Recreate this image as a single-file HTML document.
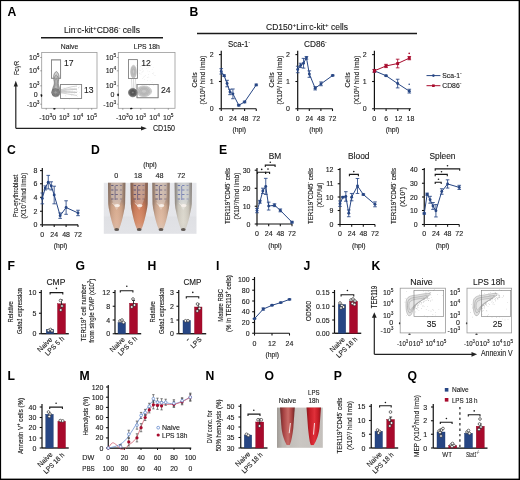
<!DOCTYPE html>
<html><head><meta charset="utf-8"><style>
html,body{margin:0;padding:0;background:#fff;}
body{width:520px;height:480px;overflow:hidden;font-family:"Liberation Sans", sans-serif;}
svg{display:block;will-change:transform;}
text{font-family:"Liberation Sans", sans-serif;}
</style></head><body>
<svg width="520" height="480" viewBox="0 0 520 480" font-family='"Liberation Sans", sans-serif'>
<rect x="0" y="0" width="520" height="480" fill="#fff" stroke="none" stroke-width="1"/>
<rect x="0" y="0" width="520" height="1.1" fill="#000" stroke="none" stroke-width="1"/>
<rect x="0" y="0" width="1.1" height="480" fill="#000" stroke="none" stroke-width="1"/>
<rect x="518.6" y="0" width="1.4" height="480" fill="#000" stroke="none" stroke-width="1"/>
<rect x="0" y="478.6" width="520" height="1.4" fill="#000" stroke="none" stroke-width="1"/>
<text x="7.5" y="16" font-size="12.2" text-anchor="start" fill="#000" font-weight="bold">A</text>
<text x="64" y="32.5" font-size="8.6" text-anchor="start" fill="#1a1a1a" stroke="#1a1a1a" stroke-width="0.12" textLength="76" lengthAdjust="spacingAndGlyphs">Lin<tspan font-size="5.5" baseline-shift="3">-</tspan>c-kit<tspan font-size="6.2" baseline-shift="2.8">+</tspan>CD86<tspan font-size="5.5" baseline-shift="3">-</tspan> cells</text>
<line x1="41" y1="37.8" x2="163" y2="37.8" stroke="#1a1a1a" stroke-width="1.4"/>
<text x="69.5" y="48.5" font-size="6.8" text-anchor="middle" fill="#1a1a1a" stroke="#1a1a1a" stroke-width="0.12">Naive</text>
<text x="146.8" y="48.5" font-size="6.8" text-anchor="middle" fill="#1a1a1a" stroke="#1a1a1a" stroke-width="0.12">LPS 18h</text>
<rect x="41.7" y="52.5" width="55.3" height="55.8" fill="none" stroke="#9a9a9a" stroke-width="0.8"/>
<line x1="40.2" y1="57.5" x2="41.7" y2="57.5" stroke="#666" stroke-width="0.6"/>
<line x1="40.2" y1="70.8" x2="41.7" y2="70.8" stroke="#666" stroke-width="0.6"/>
<line x1="40.2" y1="85.8" x2="41.7" y2="85.8" stroke="#666" stroke-width="0.6"/>
<line x1="40.2" y1="94.7" x2="41.7" y2="94.7" stroke="#666" stroke-width="0.6"/>
<line x1="40.2" y1="104.2" x2="41.7" y2="104.2" stroke="#666" stroke-width="0.6"/>
<text x="39.5" y="60.0" font-size="7" text-anchor="end" fill="#1a1a1a" stroke="#1a1a1a" stroke-width="0.12">10<tspan font-size="4.8" baseline-shift="2.8">5</tspan></text>
<text x="39.5" y="73.3" font-size="7" text-anchor="end" fill="#1a1a1a" stroke="#1a1a1a" stroke-width="0.12">10<tspan font-size="4.8" baseline-shift="2.8">4</tspan></text>
<text x="39.5" y="88.3" font-size="7" text-anchor="end" fill="#1a1a1a" stroke="#1a1a1a" stroke-width="0.12">10<tspan font-size="4.8" baseline-shift="2.8">3</tspan></text>
<text x="37.7" y="97.2" font-size="7" text-anchor="end" fill="#1a1a1a" stroke="#1a1a1a" stroke-width="0.12">0</text>
<text x="39.5" y="106.7" font-size="7" text-anchor="end" fill="#1a1a1a" stroke="#1a1a1a" stroke-width="0.12">-10<tspan font-size="4.8" baseline-shift="2.8">3</tspan></text>
<rect x="51.4" y="59.9" width="9.300000000000004" height="18.300000000000004" fill="none" stroke="#6a6a6a" stroke-width="0.7"/>
<rect x="60.5" y="84.4" width="21.200000000000003" height="14.099999999999994" fill="none" stroke="#6a6a6a" stroke-width="0.7"/>
<text x="64" y="66.1" font-size="8.6" text-anchor="start" fill="#1a1a1a" stroke="#1a1a1a" stroke-width="0.12">17</text>
<text x="84" y="93.3" font-size="8.6" text-anchor="start" fill="#1a1a1a" stroke="#1a1a1a" stroke-width="0.12">13</text>
<text x="45.7" y="120" font-size="7" text-anchor="middle" fill="#1a1a1a" stroke="#1a1a1a" stroke-width="0.12">-10<tspan font-size="4.8" baseline-shift="2.8">3</tspan></text>
<text x="54.300000000000004" y="120" font-size="7" text-anchor="middle" fill="#1a1a1a" stroke="#1a1a1a" stroke-width="0.12">0</text>
<text x="64.2" y="120" font-size="7" text-anchor="middle" fill="#1a1a1a" stroke="#1a1a1a" stroke-width="0.12">10<tspan font-size="4.8" baseline-shift="2.8">3</tspan></text>
<text x="78.0" y="120" font-size="7" text-anchor="middle" fill="#1a1a1a" stroke="#1a1a1a" stroke-width="0.12">10<tspan font-size="4.8" baseline-shift="2.8">4</tspan></text>
<text x="91.7" y="120" font-size="7" text-anchor="middle" fill="#1a1a1a" stroke="#1a1a1a" stroke-width="0.12">10<tspan font-size="4.8" baseline-shift="2.8">5</tspan></text>
<line x1="46.2" y1="108.3" x2="46.2" y2="109.8" stroke="#666" stroke-width="0.6"/>
<line x1="54.2" y1="108.3" x2="54.2" y2="109.8" stroke="#666" stroke-width="0.6"/>
<line x1="64.2" y1="108.3" x2="64.2" y2="109.8" stroke="#666" stroke-width="0.6"/>
<line x1="78.2" y1="108.3" x2="78.2" y2="109.8" stroke="#666" stroke-width="0.6"/>
<line x1="91.7" y1="108.3" x2="91.7" y2="109.8" stroke="#666" stroke-width="0.6"/>
<rect x="118.3" y="52.5" width="56.7" height="55.8" fill="none" stroke="#9a9a9a" stroke-width="0.8"/>
<line x1="116.8" y1="57.5" x2="118.3" y2="57.5" stroke="#666" stroke-width="0.6"/>
<line x1="116.8" y1="70.8" x2="118.3" y2="70.8" stroke="#666" stroke-width="0.6"/>
<line x1="116.8" y1="85.8" x2="118.3" y2="85.8" stroke="#666" stroke-width="0.6"/>
<line x1="116.8" y1="94.7" x2="118.3" y2="94.7" stroke="#666" stroke-width="0.6"/>
<line x1="116.8" y1="104.2" x2="118.3" y2="104.2" stroke="#666" stroke-width="0.6"/>
<text x="116.1" y="60.0" font-size="7" text-anchor="end" fill="#1a1a1a" stroke="#1a1a1a" stroke-width="0.12">10<tspan font-size="4.8" baseline-shift="2.8">5</tspan></text>
<text x="116.1" y="73.3" font-size="7" text-anchor="end" fill="#1a1a1a" stroke="#1a1a1a" stroke-width="0.12">10<tspan font-size="4.8" baseline-shift="2.8">4</tspan></text>
<text x="116.1" y="88.3" font-size="7" text-anchor="end" fill="#1a1a1a" stroke="#1a1a1a" stroke-width="0.12">10<tspan font-size="4.8" baseline-shift="2.8">3</tspan></text>
<text x="114.3" y="97.2" font-size="7" text-anchor="end" fill="#1a1a1a" stroke="#1a1a1a" stroke-width="0.12">0</text>
<text x="116.1" y="106.7" font-size="7" text-anchor="end" fill="#1a1a1a" stroke="#1a1a1a" stroke-width="0.12">-10<tspan font-size="4.8" baseline-shift="2.8">3</tspan></text>
<rect x="128.4" y="59.7" width="9.099999999999994" height="18.700000000000003" fill="none" stroke="#6a6a6a" stroke-width="0.7"/>
<rect x="137" y="84.4" width="21.099999999999994" height="13.399999999999991" fill="none" stroke="#6a6a6a" stroke-width="0.7"/>
<text x="141.2" y="66.4" font-size="8.6" text-anchor="start" fill="#1a1a1a" stroke="#1a1a1a" stroke-width="0.12">12</text>
<text x="161" y="93.3" font-size="8.6" text-anchor="start" fill="#1a1a1a" stroke="#1a1a1a" stroke-width="0.12">24</text>
<text x="122.3" y="120" font-size="7" text-anchor="middle" fill="#1a1a1a" stroke="#1a1a1a" stroke-width="0.12">-10<tspan font-size="4.8" baseline-shift="2.8">3</tspan></text>
<text x="130.9" y="120" font-size="7" text-anchor="middle" fill="#1a1a1a" stroke="#1a1a1a" stroke-width="0.12">0</text>
<text x="140.8" y="120" font-size="7" text-anchor="middle" fill="#1a1a1a" stroke="#1a1a1a" stroke-width="0.12">10<tspan font-size="4.8" baseline-shift="2.8">3</tspan></text>
<text x="154.6" y="120" font-size="7" text-anchor="middle" fill="#1a1a1a" stroke="#1a1a1a" stroke-width="0.12">10<tspan font-size="4.8" baseline-shift="2.8">4</tspan></text>
<text x="168.3" y="120" font-size="7" text-anchor="middle" fill="#1a1a1a" stroke="#1a1a1a" stroke-width="0.12">10<tspan font-size="4.8" baseline-shift="2.8">5</tspan></text>
<line x1="122.8" y1="108.3" x2="122.8" y2="109.8" stroke="#666" stroke-width="0.6"/>
<line x1="130.8" y1="108.3" x2="130.8" y2="109.8" stroke="#666" stroke-width="0.6"/>
<line x1="140.8" y1="108.3" x2="140.8" y2="109.8" stroke="#666" stroke-width="0.6"/>
<line x1="154.8" y1="108.3" x2="154.8" y2="109.8" stroke="#666" stroke-width="0.6"/>
<line x1="168.3" y1="108.3" x2="168.3" y2="109.8" stroke="#666" stroke-width="0.6"/>
<g fill="none" stroke="#a8a8a8" stroke-width="0.5">
<path d="M59,90.25 C64,89.00 70,86.50 77,86.00"/>
<path d="M59,90.75 C64,89.80 70,88.10 77,89.10"/>
<path d="M59,91.25 C64,90.60 70,89.70 77,89.20"/>
<path d="M59,91.75 C64,91.40 70,91.30 77,92.30"/>
<path d="M59,92.25 C64,92.20 70,92.90 77,92.40"/>
<path d="M59,92.75 C64,93.00 70,94.50 77,95.50"/>
</g>
<g fill="#bbb" opacity="0.8">
<circle cx="64.8" cy="87.9" r="0.3"/>
<circle cx="72.1" cy="89.8" r="0.3"/>
<circle cx="72.5" cy="90.9" r="0.3"/>
<circle cx="76.7" cy="90.7" r="0.3"/>
<circle cx="65.2" cy="91.4" r="0.3"/>
<circle cx="69.4" cy="99.7" r="0.3"/>
<circle cx="76.7" cy="86.5" r="0.3"/>
<circle cx="63.0" cy="91.1" r="0.3"/>
<circle cx="72.7" cy="92.8" r="0.3"/>
<circle cx="74.8" cy="88.0" r="0.3"/>
<circle cx="73.4" cy="94.8" r="0.3"/>
<circle cx="71.8" cy="92.3" r="0.3"/>
<circle cx="66.0" cy="96.0" r="0.3"/>
<circle cx="69.5" cy="91.6" r="0.3"/>
<circle cx="74.4" cy="93.7" r="0.3"/>
<circle cx="78.4" cy="87.4" r="0.3"/>
<circle cx="67.9" cy="91.5" r="0.3"/>
<circle cx="78.7" cy="87.6" r="0.3"/>
<circle cx="77.6" cy="91.7" r="0.3"/>
<circle cx="64.3" cy="91.4" r="0.3"/>
<circle cx="79.3" cy="86.9" r="0.3"/>
<circle cx="66.0" cy="92.0" r="0.3"/>
<circle cx="70.1" cy="88.5" r="0.3"/>
<circle cx="71.7" cy="92.2" r="0.3"/>
<circle cx="71.7" cy="94.0" r="0.3"/>
<circle cx="78.6" cy="88.1" r="0.3"/>
<circle cx="77.1" cy="94.7" r="0.3"/>
<circle cx="63.3" cy="90.3" r="0.3"/>
<circle cx="77.2" cy="96.4" r="0.3"/>
<circle cx="71.4" cy="89.2" r="0.3"/>
<circle cx="74.3" cy="91.8" r="0.3"/>
<circle cx="71.5" cy="95.6" r="0.3"/>
<circle cx="65.7" cy="95.6" r="0.3"/>
<circle cx="79.8" cy="92.6" r="0.3"/>
<circle cx="61.8" cy="91.4" r="0.3"/>
<circle cx="63.0" cy="87.8" r="0.3"/>
<circle cx="65.9" cy="91.2" r="0.3"/>
<circle cx="60.9" cy="84.9" r="0.3"/>
<circle cx="72.3" cy="94.8" r="0.3"/>
<circle cx="66.6" cy="91.7" r="0.3"/>
</g>
<path d="M56.60,71.50 C58.30,72.50 59.30,75.50 59.00,78.00 C58.60,80.50 58.00,82.50 58.50,85.00 C60.00,88.00 60.50,93.00 59.00,95.50 C57.50,97.20 53.50,97.20 52.50,95.00 C51.70,92.00 52.50,88.00 54.00,85.00 C54.80,82.50 53.80,80.00 53.60,77.50 C53.50,74.50 54.80,71.80 56.60,71.50 Z" fill="#d0d0d0" stroke="#666" stroke-width="0.6"/>
<path d="M56.45,75.12 C57.72,75.88 58.47,78.12 58.25,80.00 C57.95,81.88 57.50,83.38 57.88,85.25 C59.00,87.50 59.38,91.25 58.25,93.12 C57.12,94.40 54.12,94.40 53.38,92.75 C52.78,90.50 53.38,87.50 54.50,85.25 C55.10,83.38 54.35,81.50 54.20,79.62 C54.12,77.38 55.10,75.35 56.45,75.12 Z" fill="#bcbcbc" stroke="#7a7a7a" stroke-width="0.6"/>
<path d="M56.30,78.75 C57.15,79.25 57.65,80.75 57.50,82.00 C57.30,83.25 57.00,84.25 57.25,85.50 C58.00,87.00 58.25,89.50 57.50,90.75 C56.75,91.60 54.75,91.60 54.25,90.50 C53.85,89.00 54.25,87.00 55.00,85.50 C55.40,84.25 54.90,83.00 54.80,81.75 C54.75,80.25 55.40,78.90 56.30,78.75 Z" fill="#b4b4b4" stroke="#858585" stroke-width="0.6"/>
<ellipse cx="55.6" cy="92.4" rx="3.89" ry="3.70" fill="#aaaaaa" stroke="#3a3a3a" stroke-width="0.5"/>
<ellipse cx="55.6" cy="92.4" rx="2.84" ry="2.70" fill="#9a9a9a" stroke="#505050" stroke-width="0.5"/>
<ellipse cx="55.6" cy="92.4" rx="1.78" ry="1.70" fill="#9c9c9c" stroke="#666" stroke-width="0.5"/>
<g fill="#c4c4c4" opacity="0.9">
<circle cx="153.6" cy="85.6" r="0.3"/>
<circle cx="146.1" cy="86.0" r="0.3"/>
<circle cx="142.2" cy="65.7" r="0.3"/>
<circle cx="148.0" cy="64.7" r="0.3"/>
<circle cx="139.9" cy="73.0" r="0.3"/>
<circle cx="148.2" cy="67.4" r="0.3"/>
<circle cx="136.8" cy="83.1" r="0.3"/>
<circle cx="142.3" cy="85.1" r="0.3"/>
<circle cx="153.9" cy="72.3" r="0.3"/>
<circle cx="145.2" cy="75.4" r="0.3"/>
<circle cx="148.9" cy="77.1" r="0.3"/>
<circle cx="147.2" cy="77.6" r="0.3"/>
<circle cx="154.8" cy="75.2" r="0.3"/>
<circle cx="144.6" cy="79.8" r="0.3"/>
<circle cx="140.8" cy="70.6" r="0.3"/>
<circle cx="155.6" cy="75.5" r="0.3"/>
<circle cx="147.0" cy="64.3" r="0.3"/>
<circle cx="144.3" cy="76.8" r="0.3"/>
<circle cx="136.4" cy="77.5" r="0.3"/>
<circle cx="148.6" cy="65.3" r="0.3"/>
<circle cx="148.5" cy="74.3" r="0.3"/>
<circle cx="149.6" cy="71.8" r="0.3"/>
<circle cx="150.1" cy="80.2" r="0.3"/>
<circle cx="136.4" cy="65.3" r="0.3"/>
<circle cx="149.5" cy="85.2" r="0.3"/>
<circle cx="141.0" cy="74.0" r="0.3"/>
<circle cx="147.9" cy="71.0" r="0.3"/>
<circle cx="143.3" cy="70.9" r="0.3"/>
<circle cx="143.4" cy="77.1" r="0.3"/>
<circle cx="142.0" cy="72.3" r="0.3"/>
<circle cx="151.4" cy="64.6" r="0.3"/>
<circle cx="147.4" cy="80.2" r="0.3"/>
<circle cx="142.2" cy="68.9" r="0.3"/>
<circle cx="152.1" cy="69.3" r="0.3"/>
<circle cx="139.7" cy="73.6" r="0.3"/>
<circle cx="150.0" cy="66.2" r="0.3"/>
<circle cx="142.4" cy="71.3" r="0.3"/>
<circle cx="152.7" cy="73.6" r="0.3"/>
<circle cx="153.1" cy="67.7" r="0.3"/>
<circle cx="142.7" cy="78.3" r="0.3"/>
<circle cx="153.7" cy="73.9" r="0.3"/>
<circle cx="140.5" cy="66.7" r="0.3"/>
<circle cx="146.6" cy="68.2" r="0.3"/>
<circle cx="152.1" cy="82.4" r="0.3"/>
<circle cx="139.7" cy="70.1" r="0.3"/>
</g>
<path d="M131.5,79 L132,88 M135.5,79 L135,88 M133.5,79 L133.5,88" stroke="#bbb" stroke-width="0.5"/>
<ellipse cx="133.5" cy="71.7" rx="2.9" ry="6.4" fill="#cfcfcf" stroke="#aaa" stroke-width="0.45"/>
<ellipse cx="133.5" cy="71.7" rx="2.2" ry="5.0" fill="#c4c4c4" stroke="#aaa" stroke-width="0.45"/>
<ellipse cx="133.5" cy="71.7" rx="1.4" ry="3.5" fill="#bcbcbc" stroke="#aaa" stroke-width="0.45"/>
<ellipse cx="133.5" cy="71.7" rx="0.7" ry="2" fill="#d4d4d4" stroke="#b4b4b4" stroke-width="0.45"/>
<ellipse cx="144" cy="91.3" rx="7.6" ry="5.4" fill="#d0d0d0" stroke="#aaa" stroke-width="0.45"/>
<ellipse cx="144" cy="91.3" rx="6.0" ry="4.3" fill="#c6c6c6" stroke="#a8a8a8" stroke-width="0.45"/>
<ellipse cx="144" cy="91.3" rx="4.4" ry="3.1" fill="#bdbdbd" stroke="#a4a4a4" stroke-width="0.45"/>
<ellipse cx="144" cy="91.3" rx="2.6" ry="2" fill="#c8c8c8" stroke="#aaa" stroke-width="0.45"/>
<ellipse cx="132.8" cy="92.6" rx="4.3" ry="4.21" fill="#8c8c8c" stroke="#4a4a4a" stroke-width="0.55"/>
<ellipse cx="132.8" cy="92.6" rx="3.3" ry="3.23" fill="#7a7a7a" stroke="#444" stroke-width="0.55"/>
<ellipse cx="132.8" cy="92.6" rx="2.3" ry="2.25" fill="#666" stroke="#3a3a3a" stroke-width="0.55"/>
<ellipse cx="132.8" cy="92.6" rx="1.3" ry="1.27" fill="#808080" stroke="#444" stroke-width="0.55"/>
<rect x="51.4" y="59.9" width="9.300000000000004" height="18.300000000000004" fill="none" stroke="#888" stroke-width="0.6"/>
<rect x="60.5" y="84.4" width="21.200000000000003" height="14.099999999999994" fill="none" stroke="#888" stroke-width="0.6"/>
<rect x="128.4" y="59.7" width="9.099999999999994" height="18.700000000000003" fill="none" stroke="#888" stroke-width="0.6"/>
<rect x="137" y="84.4" width="21.099999999999994" height="13.399999999999991" fill="none" stroke="#888" stroke-width="0.6"/>
<ellipse cx="41.5" cy="95.6" rx="0.8" ry="1.3" fill="#111"/>
<ellipse cx="54.4" cy="108.7" rx="1.3" ry="0.7" fill="#111"/>
<ellipse cx="118.1" cy="94.9" rx="0.8" ry="1.3" fill="#111"/>
<ellipse cx="131.3" cy="108.5" rx="1.3" ry="0.7" fill="#111"/>
<ellipse cx="399.6" cy="323.3" rx="0.7" ry="1.1" fill="#111"/>
<ellipse cx="409.5" cy="334.2" rx="1.2" ry="0.6" fill="#111"/>
<ellipse cx="466.6" cy="323.3" rx="0.7" ry="1.1" fill="#111"/>
<ellipse cx="476.5" cy="334.2" rx="1.2" ry="0.6" fill="#111"/>
<path d="M15.8,128.3 L15.8,84.5" fill="none" stroke="#222" stroke-width="1.2"/>
<path d="M13.7,86.5 L15.8,80.8 L17.9,86.5 Z" fill="#222" stroke="none" stroke-width="1"/>
<path d="M15.8,128.3 L143,128.3" fill="none" stroke="#222" stroke-width="1.2"/>
<path d="M141,126.2 L146.8,128.3 L141,130.4 Z" fill="#222" stroke="none" stroke-width="1"/>
<text x="19" y="68" font-size="8" text-anchor="middle" fill="#1a1a1a" stroke="#1a1a1a" stroke-width="0.12" transform="rotate(-90 19 68)" textLength="14.2" lengthAdjust="spacingAndGlyphs">FcγR</text>
<text x="153" y="130.6" font-size="8.6" text-anchor="start" fill="#1a1a1a" stroke="#1a1a1a" stroke-width="0.12" textLength="22" lengthAdjust="spacingAndGlyphs">CD150</text>
<text x="189.5" y="16" font-size="12.2" text-anchor="start" fill="#000" font-weight="bold">B</text>
<text x="266" y="29.5" font-size="8.6" text-anchor="start" fill="#1a1a1a" stroke="#1a1a1a" stroke-width="0.12" textLength="82" lengthAdjust="spacingAndGlyphs">CD150<tspan font-size="6.2" baseline-shift="2.8">+</tspan>Lin<tspan font-size="5.5" baseline-shift="3">-</tspan>c-kit<tspan font-size="6.2" baseline-shift="2.8">+</tspan> cells</text>
<line x1="197" y1="33.5" x2="417" y2="33.5" stroke="#1a1a1a" stroke-width="1.4"/>
<text x="228" y="46.5" font-size="8.6" text-anchor="start" fill="#1a1a1a" stroke="#1a1a1a" stroke-width="0.12" textLength="22" lengthAdjust="spacingAndGlyphs">Sca-1<tspan font-size="5" baseline-shift="2.8">-</tspan></text>
<text x="304" y="46.5" font-size="8.6" text-anchor="start" fill="#1a1a1a" stroke="#1a1a1a" stroke-width="0.12" textLength="22.7" lengthAdjust="spacingAndGlyphs">CD86<tspan font-size="5" baseline-shift="2.8">-</tspan></text>
<line x1="221.25" y1="50.8" x2="221.25" y2="108.75" stroke="#111" stroke-width="1.2"/>
<line x1="218.95" y1="54.6" x2="221.25" y2="54.6" stroke="#111" stroke-width="1.08"/>
<text x="213.54999999999998" y="57.120000000000005" font-size="7" text-anchor="end" fill="#1a1a1a" stroke="#1a1a1a" stroke-width="0.12">2</text>
<line x1="218.95" y1="81.5" x2="221.25" y2="81.5" stroke="#111" stroke-width="1.08"/>
<text x="213.54999999999998" y="84.02" font-size="7" text-anchor="end" fill="#1a1a1a" stroke="#1a1a1a" stroke-width="0.12">1</text>
<line x1="218.95" y1="108.75" x2="221.25" y2="108.75" stroke="#111" stroke-width="1.08"/>
<text x="213.54999999999998" y="111.27" font-size="7" text-anchor="end" fill="#1a1a1a" stroke="#1a1a1a" stroke-width="0.12">0</text>
<line x1="221.25" y1="108.75" x2="256.25" y2="108.75" stroke="#111" stroke-width="1.2"/>
<line x1="221.25" y1="108.75" x2="221.25" y2="111.05" stroke="#111" stroke-width="1.08"/>
<text x="221.25" y="120.75" font-size="7" text-anchor="middle" fill="#1a1a1a" stroke="#1a1a1a" stroke-width="0.12">0</text>
<line x1="232.9" y1="108.75" x2="232.9" y2="111.05" stroke="#111" stroke-width="1.08"/>
<text x="232.9" y="120.75" font-size="7" text-anchor="middle" fill="#1a1a1a" stroke="#1a1a1a" stroke-width="0.12">24</text>
<line x1="244.6" y1="108.75" x2="244.6" y2="111.05" stroke="#111" stroke-width="1.08"/>
<text x="244.6" y="120.75" font-size="7" text-anchor="middle" fill="#1a1a1a" stroke="#1a1a1a" stroke-width="0.12">48</text>
<line x1="256.25" y1="108.75" x2="256.25" y2="111.05" stroke="#111" stroke-width="1.08"/>
<text x="256.25" y="120.75" font-size="7" text-anchor="middle" fill="#1a1a1a" stroke="#1a1a1a" stroke-width="0.12">72</text>
<text x="196.5" y="80" font-size="6.8" text-anchor="middle" fill="#1a1a1a" stroke="#1a1a1a" stroke-width="0.12" transform="rotate(-90 196.5 80)">Cells</text>
<text x="205.0" y="80" font-size="6.8" text-anchor="middle" fill="#1a1a1a" stroke="#1a1a1a" stroke-width="0.12" transform="rotate(-90 205.0 80)" textLength="49" lengthAdjust="spacingAndGlyphs">(X10<tspan font-size="4.2" baseline-shift="2.4">5</tspan>/ hind limb)</text>
<line x1="297.7" y1="50.8" x2="297.7" y2="108.75" stroke="#111" stroke-width="1.2"/>
<line x1="295.4" y1="54.6" x2="297.7" y2="54.6" stroke="#111" stroke-width="1.08"/>
<text x="290.0" y="57.120000000000005" font-size="7" text-anchor="end" fill="#1a1a1a" stroke="#1a1a1a" stroke-width="0.12">2</text>
<line x1="295.4" y1="81.5" x2="297.7" y2="81.5" stroke="#111" stroke-width="1.08"/>
<text x="290.0" y="84.02" font-size="7" text-anchor="end" fill="#1a1a1a" stroke="#1a1a1a" stroke-width="0.12">1</text>
<line x1="295.4" y1="108.75" x2="297.7" y2="108.75" stroke="#111" stroke-width="1.08"/>
<text x="290.0" y="111.27" font-size="7" text-anchor="end" fill="#1a1a1a" stroke="#1a1a1a" stroke-width="0.12">0</text>
<line x1="297.7" y1="108.75" x2="332.5" y2="108.75" stroke="#111" stroke-width="1.2"/>
<line x1="297.7" y1="108.75" x2="297.7" y2="111.05" stroke="#111" stroke-width="1.08"/>
<text x="297.7" y="120.75" font-size="7" text-anchor="middle" fill="#1a1a1a" stroke="#1a1a1a" stroke-width="0.12">0</text>
<line x1="309.3" y1="108.75" x2="309.3" y2="111.05" stroke="#111" stroke-width="1.08"/>
<text x="309.3" y="120.75" font-size="7" text-anchor="middle" fill="#1a1a1a" stroke="#1a1a1a" stroke-width="0.12">24</text>
<line x1="320.9" y1="108.75" x2="320.9" y2="111.05" stroke="#111" stroke-width="1.08"/>
<text x="320.9" y="120.75" font-size="7" text-anchor="middle" fill="#1a1a1a" stroke="#1a1a1a" stroke-width="0.12">48</text>
<line x1="332.5" y1="108.75" x2="332.5" y2="111.05" stroke="#111" stroke-width="1.08"/>
<text x="332.5" y="120.75" font-size="7" text-anchor="middle" fill="#1a1a1a" stroke="#1a1a1a" stroke-width="0.12">72</text>
<text x="273.5" y="80" font-size="6.8" text-anchor="middle" fill="#1a1a1a" stroke="#1a1a1a" stroke-width="0.12" transform="rotate(-90 273.5 80)">Cells</text>
<text x="282.0" y="80" font-size="6.8" text-anchor="middle" fill="#1a1a1a" stroke="#1a1a1a" stroke-width="0.12" transform="rotate(-90 282.0 80)" textLength="49" lengthAdjust="spacingAndGlyphs">(X10<tspan font-size="4.2" baseline-shift="2.4">5</tspan>/ hind limb)</text>
<line x1="374.4" y1="50.8" x2="374.4" y2="108.75" stroke="#111" stroke-width="1.2"/>
<line x1="372.09999999999997" y1="54.6" x2="374.4" y2="54.6" stroke="#111" stroke-width="1.08"/>
<text x="366.7" y="57.120000000000005" font-size="7" text-anchor="end" fill="#1a1a1a" stroke="#1a1a1a" stroke-width="0.12">2</text>
<line x1="372.09999999999997" y1="81.5" x2="374.4" y2="81.5" stroke="#111" stroke-width="1.08"/>
<text x="366.7" y="84.02" font-size="7" text-anchor="end" fill="#1a1a1a" stroke="#1a1a1a" stroke-width="0.12">1</text>
<line x1="372.09999999999997" y1="108.75" x2="374.4" y2="108.75" stroke="#111" stroke-width="1.08"/>
<text x="366.7" y="111.27" font-size="7" text-anchor="end" fill="#1a1a1a" stroke="#1a1a1a" stroke-width="0.12">0</text>
<line x1="374.4" y1="108.75" x2="410.9" y2="108.75" stroke="#111" stroke-width="1.2"/>
<line x1="374.4" y1="108.75" x2="374.4" y2="111.05" stroke="#111" stroke-width="1.08"/>
<line x1="386.1" y1="108.75" x2="386.1" y2="111.05" stroke="#111" stroke-width="1.08"/>
<line x1="397.8" y1="108.75" x2="397.8" y2="111.05" stroke="#111" stroke-width="1.08"/>
<line x1="409.4" y1="108.75" x2="409.4" y2="111.05" stroke="#111" stroke-width="1.08"/>
<text x="350" y="80" font-size="6.8" text-anchor="middle" fill="#1a1a1a" stroke="#1a1a1a" stroke-width="0.12" transform="rotate(-90 350 80)">Cells</text>
<text x="358.5" y="80" font-size="6.8" text-anchor="middle" fill="#1a1a1a" stroke="#1a1a1a" stroke-width="0.12" transform="rotate(-90 358.5 80)" textLength="49" lengthAdjust="spacingAndGlyphs">(X10<tspan font-size="4.2" baseline-shift="2.4">5</tspan>/ hind limb)</text>
<text x="374.3" y="120.75" font-size="7" text-anchor="middle" fill="#1a1a1a" stroke="#1a1a1a" stroke-width="0.12">0</text>
<text x="386.3" y="120.75" font-size="7" text-anchor="middle" fill="#1a1a1a" stroke="#1a1a1a" stroke-width="0.12">6</text>
<text x="398.4" y="120.75" font-size="7" text-anchor="middle" fill="#1a1a1a" stroke="#1a1a1a" stroke-width="0.12">12</text>
<text x="410.4" y="120.75" font-size="7" text-anchor="middle" fill="#1a1a1a" stroke="#1a1a1a" stroke-width="0.12">18</text>
<text x="239.2" y="131.6" font-size="6.8" text-anchor="middle" fill="#1a1a1a" stroke="#1a1a1a" stroke-width="0.12">(hpi)</text>
<text x="316" y="131.6" font-size="6.8" text-anchor="middle" fill="#1a1a1a" stroke="#1a1a1a" stroke-width="0.12">(hpi)</text>
<text x="392.6" y="131.6" font-size="6.8" text-anchor="middle" fill="#1a1a1a" stroke="#1a1a1a" stroke-width="0.12">(hpi)</text>
<path d="M221.25,71.37960000000001 L224.16666666666666,75.7124 L227.08333333333334,83.5656 L230.0,91.96039999999999 L232.91666666666666,93.856 L238.75,105.2296 L244.58333333333334,101.98 L256.25,84.9196" fill="none" stroke="#274684" stroke-width="1.0"/>
<line x1="221.25" y1="74.08760000000001" x2="221.25" y2="68.67160000000001" stroke="#274684" stroke-width="0.85"/>
<line x1="219.45" y1="74.08760000000001" x2="223.05" y2="74.08760000000001" stroke="#274684" stroke-width="0.85"/>
<line x1="219.45" y1="68.67160000000001" x2="223.05" y2="68.67160000000001" stroke="#274684" stroke-width="0.85"/>
<circle cx="221.25" cy="71.37960000000001" r="1.45" fill="#274684" stroke="none" stroke-width="1"/>
<line x1="224.16666666666666" y1="76.5248" x2="224.16666666666666" y2="74.9" stroke="#274684" stroke-width="0.85"/>
<line x1="222.36666666666665" y1="76.5248" x2="225.96666666666667" y2="76.5248" stroke="#274684" stroke-width="0.85"/>
<line x1="222.36666666666665" y1="74.9" x2="225.96666666666667" y2="74.9" stroke="#274684" stroke-width="0.85"/>
<circle cx="224.16666666666666" cy="75.7124" r="1.45" fill="#274684" stroke="none" stroke-width="1"/>
<line x1="227.08333333333334" y1="86.8152" x2="227.08333333333334" y2="80.316" stroke="#274684" stroke-width="0.85"/>
<line x1="225.28333333333333" y1="86.8152" x2="228.88333333333335" y2="86.8152" stroke="#274684" stroke-width="0.85"/>
<line x1="225.28333333333333" y1="80.316" x2="228.88333333333335" y2="80.316" stroke="#274684" stroke-width="0.85"/>
<circle cx="227.08333333333334" cy="83.5656" r="1.45" fill="#274684" stroke="none" stroke-width="1"/>
<line x1="230.0" y1="94.6684" x2="230.0" y2="89.2524" stroke="#274684" stroke-width="0.85"/>
<line x1="228.2" y1="94.6684" x2="231.8" y2="94.6684" stroke="#274684" stroke-width="0.85"/>
<line x1="228.2" y1="89.2524" x2="231.8" y2="89.2524" stroke="#274684" stroke-width="0.85"/>
<circle cx="230.0" cy="91.96039999999999" r="1.45" fill="#274684" stroke="none" stroke-width="1"/>
<line x1="232.91666666666666" y1="98.7304" x2="232.91666666666666" y2="88.9816" stroke="#274684" stroke-width="0.85"/>
<line x1="231.11666666666665" y1="98.7304" x2="234.71666666666667" y2="98.7304" stroke="#274684" stroke-width="0.85"/>
<line x1="231.11666666666665" y1="88.9816" x2="234.71666666666667" y2="88.9816" stroke="#274684" stroke-width="0.85"/>
<circle cx="232.91666666666666" cy="93.856" r="1.45" fill="#274684" stroke="none" stroke-width="1"/>
<line x1="238.75" y1="106.042" x2="238.75" y2="104.4172" stroke="#274684" stroke-width="0.85"/>
<line x1="236.95" y1="106.042" x2="240.55" y2="106.042" stroke="#274684" stroke-width="0.85"/>
<line x1="236.95" y1="104.4172" x2="240.55" y2="104.4172" stroke="#274684" stroke-width="0.85"/>
<circle cx="238.75" cy="105.2296" r="1.45" fill="#274684" stroke="none" stroke-width="1"/>
<line x1="244.58333333333334" y1="102.7924" x2="244.58333333333334" y2="101.1676" stroke="#274684" stroke-width="0.85"/>
<line x1="242.78333333333333" y1="102.7924" x2="246.38333333333335" y2="102.7924" stroke="#274684" stroke-width="0.85"/>
<line x1="242.78333333333333" y1="101.1676" x2="246.38333333333335" y2="101.1676" stroke="#274684" stroke-width="0.85"/>
<circle cx="244.58333333333334" cy="101.98" r="1.45" fill="#274684" stroke="none" stroke-width="1"/>
<line x1="256.25" y1="85.732" x2="256.25" y2="84.1072" stroke="#274684" stroke-width="0.85"/>
<line x1="254.45" y1="85.732" x2="258.05" y2="85.732" stroke="#274684" stroke-width="0.85"/>
<line x1="254.45" y1="84.1072" x2="258.05" y2="84.1072" stroke="#274684" stroke-width="0.85"/>
<circle cx="256.25" cy="84.9196" r="1.45" fill="#274684" stroke="none" stroke-width="1"/>
<path d="M297.7,69.48400000000001 L300.6166666666667,65.422 L303.5333333333333,63.2556 L306.45,57.839600000000004 L309.3666666666667,74.08760000000001 L315.2,88.3046 L321.0333333333333,83.8364 L332.7,75.4416" fill="none" stroke="#274684" stroke-width="1.0"/>
<line x1="297.7" y1="72.7336" x2="297.7" y2="66.23440000000001" stroke="#274684" stroke-width="0.85"/>
<line x1="295.9" y1="72.7336" x2="299.5" y2="72.7336" stroke="#274684" stroke-width="0.85"/>
<line x1="295.9" y1="66.23440000000001" x2="299.5" y2="66.23440000000001" stroke="#274684" stroke-width="0.85"/>
<circle cx="297.7" cy="69.48400000000001" r="1.45" fill="#274684" stroke="none" stroke-width="1"/>
<line x1="300.6166666666667" y1="67.58840000000001" x2="300.6166666666667" y2="63.2556" stroke="#274684" stroke-width="0.85"/>
<line x1="298.81666666666666" y1="67.58840000000001" x2="302.4166666666667" y2="67.58840000000001" stroke="#274684" stroke-width="0.85"/>
<line x1="298.81666666666666" y1="63.2556" x2="302.4166666666667" y2="63.2556" stroke="#274684" stroke-width="0.85"/>
<circle cx="300.6166666666667" cy="65.422" r="1.45" fill="#274684" stroke="none" stroke-width="1"/>
<line x1="303.5333333333333" y1="68.13" x2="303.5333333333333" y2="58.38120000000001" stroke="#274684" stroke-width="0.85"/>
<line x1="301.7333333333333" y1="68.13" x2="305.3333333333333" y2="68.13" stroke="#274684" stroke-width="0.85"/>
<line x1="301.7333333333333" y1="58.38120000000001" x2="305.3333333333333" y2="58.38120000000001" stroke="#274684" stroke-width="0.85"/>
<circle cx="303.5333333333333" cy="63.2556" r="1.45" fill="#274684" stroke="none" stroke-width="1"/>
<line x1="306.45" y1="59.19360000000001" x2="306.45" y2="56.485600000000005" stroke="#274684" stroke-width="0.85"/>
<line x1="304.65" y1="59.19360000000001" x2="308.25" y2="59.19360000000001" stroke="#274684" stroke-width="0.85"/>
<line x1="304.65" y1="56.485600000000005" x2="308.25" y2="56.485600000000005" stroke="#274684" stroke-width="0.85"/>
<circle cx="306.45" cy="57.839600000000004" r="1.45" fill="#274684" stroke="none" stroke-width="1"/>
<line x1="309.3666666666667" y1="77.3372" x2="309.3666666666667" y2="70.83800000000001" stroke="#274684" stroke-width="0.85"/>
<line x1="307.56666666666666" y1="77.3372" x2="311.1666666666667" y2="77.3372" stroke="#274684" stroke-width="0.85"/>
<line x1="307.56666666666666" y1="70.83800000000001" x2="311.1666666666667" y2="70.83800000000001" stroke="#274684" stroke-width="0.85"/>
<circle cx="309.3666666666667" cy="74.08760000000001" r="1.45" fill="#274684" stroke="none" stroke-width="1"/>
<line x1="315.2" y1="89.9294" x2="315.2" y2="86.6798" stroke="#274684" stroke-width="0.85"/>
<line x1="313.4" y1="89.9294" x2="317.0" y2="89.9294" stroke="#274684" stroke-width="0.85"/>
<line x1="313.4" y1="86.6798" x2="317.0" y2="86.6798" stroke="#274684" stroke-width="0.85"/>
<circle cx="315.2" cy="88.3046" r="1.45" fill="#274684" stroke="none" stroke-width="1"/>
<line x1="321.0333333333333" y1="85.732" x2="321.0333333333333" y2="81.9408" stroke="#274684" stroke-width="0.85"/>
<line x1="319.2333333333333" y1="85.732" x2="322.8333333333333" y2="85.732" stroke="#274684" stroke-width="0.85"/>
<line x1="319.2333333333333" y1="81.9408" x2="322.8333333333333" y2="81.9408" stroke="#274684" stroke-width="0.85"/>
<circle cx="321.0333333333333" cy="83.8364" r="1.45" fill="#274684" stroke="none" stroke-width="1"/>
<line x1="332.7" y1="75.98320000000001" x2="332.7" y2="74.9" stroke="#274684" stroke-width="0.85"/>
<line x1="330.9" y1="75.98320000000001" x2="334.5" y2="75.98320000000001" stroke="#274684" stroke-width="0.85"/>
<line x1="330.9" y1="74.9" x2="334.5" y2="74.9" stroke="#274684" stroke-width="0.85"/>
<circle cx="332.7" cy="75.4416" r="1.45" fill="#274684" stroke="none" stroke-width="1"/>
<path d="M374.4,70.83800000000001 L386.0333333333333,75.7124 L397.66666666666663,83.5656 L409.29999999999995,91.148" fill="none" stroke="#274684" stroke-width="1.0"/>
<line x1="374.4" y1="72.19200000000001" x2="374.4" y2="69.48400000000001" stroke="#274684" stroke-width="0.85"/>
<line x1="372.59999999999997" y1="72.19200000000001" x2="376.2" y2="72.19200000000001" stroke="#274684" stroke-width="0.85"/>
<line x1="372.59999999999997" y1="69.48400000000001" x2="376.2" y2="69.48400000000001" stroke="#274684" stroke-width="0.85"/>
<circle cx="374.4" cy="70.83800000000001" r="1.45" fill="#274684" stroke="none" stroke-width="1"/>
<line x1="386.0333333333333" y1="76.254" x2="386.0333333333333" y2="75.1708" stroke="#274684" stroke-width="0.85"/>
<line x1="384.2333333333333" y1="76.254" x2="387.8333333333333" y2="76.254" stroke="#274684" stroke-width="0.85"/>
<line x1="384.2333333333333" y1="75.1708" x2="387.8333333333333" y2="75.1708" stroke="#274684" stroke-width="0.85"/>
<circle cx="386.0333333333333" cy="75.7124" r="1.45" fill="#274684" stroke="none" stroke-width="1"/>
<line x1="397.66666666666663" y1="87.89840000000001" x2="397.66666666666663" y2="79.2328" stroke="#274684" stroke-width="0.85"/>
<line x1="395.8666666666666" y1="87.89840000000001" x2="399.46666666666664" y2="87.89840000000001" stroke="#274684" stroke-width="0.85"/>
<line x1="395.8666666666666" y1="79.2328" x2="399.46666666666664" y2="79.2328" stroke="#274684" stroke-width="0.85"/>
<circle cx="397.66666666666663" cy="83.5656" r="1.45" fill="#274684" stroke="none" stroke-width="1"/>
<line x1="409.29999999999995" y1="93.0436" x2="409.29999999999995" y2="89.2524" stroke="#274684" stroke-width="0.85"/>
<line x1="407.49999999999994" y1="93.0436" x2="411.09999999999997" y2="93.0436" stroke="#274684" stroke-width="0.85"/>
<line x1="407.49999999999994" y1="89.2524" x2="411.09999999999997" y2="89.2524" stroke="#274684" stroke-width="0.85"/>
<circle cx="409.29999999999995" cy="91.148" r="1.45" fill="#274684" stroke="none" stroke-width="1"/>
<path d="M374.4,70.83800000000001 L386.0333333333333,65.9636 L397.66666666666663,63.5264 L409.29999999999995,58.1104" fill="none" stroke="#a80a2c" stroke-width="1.0"/>
<line x1="374.4" y1="72.19200000000001" x2="374.4" y2="69.48400000000001" stroke="#a80a2c" stroke-width="0.85"/>
<line x1="372.59999999999997" y1="72.19200000000001" x2="376.2" y2="72.19200000000001" stroke="#a80a2c" stroke-width="0.85"/>
<line x1="372.59999999999997" y1="69.48400000000001" x2="376.2" y2="69.48400000000001" stroke="#a80a2c" stroke-width="0.85"/>
<rect x="372.95" y="69.388" width="2.9" height="2.9" fill="#a80a2c" stroke="none" stroke-width="1"/>
<line x1="386.0333333333333" y1="67.58840000000001" x2="386.0333333333333" y2="64.33879999999999" stroke="#a80a2c" stroke-width="0.85"/>
<line x1="384.2333333333333" y1="67.58840000000001" x2="387.8333333333333" y2="67.58840000000001" stroke="#a80a2c" stroke-width="0.85"/>
<line x1="384.2333333333333" y1="64.33879999999999" x2="387.8333333333333" y2="64.33879999999999" stroke="#a80a2c" stroke-width="0.85"/>
<rect x="384.5833333333333" y="64.5136" width="2.9" height="2.9" fill="#a80a2c" stroke="none" stroke-width="1"/>
<line x1="397.66666666666663" y1="67.8592" x2="397.66666666666663" y2="59.19360000000001" stroke="#a80a2c" stroke-width="0.85"/>
<line x1="395.8666666666666" y1="67.8592" x2="399.46666666666664" y2="67.8592" stroke="#a80a2c" stroke-width="0.85"/>
<line x1="395.8666666666666" y1="59.19360000000001" x2="399.46666666666664" y2="59.19360000000001" stroke="#a80a2c" stroke-width="0.85"/>
<rect x="396.21666666666664" y="62.0764" width="2.9" height="2.9" fill="#a80a2c" stroke="none" stroke-width="1"/>
<line x1="409.29999999999995" y1="59.7352" x2="409.29999999999995" y2="56.4856" stroke="#a80a2c" stroke-width="0.85"/>
<line x1="407.49999999999994" y1="59.7352" x2="411.09999999999997" y2="59.7352" stroke="#a80a2c" stroke-width="0.85"/>
<line x1="407.49999999999994" y1="56.4856" x2="411.09999999999997" y2="56.4856" stroke="#a80a2c" stroke-width="0.85"/>
<rect x="407.84999999999997" y="56.660399999999996" width="2.9" height="2.9" fill="#a80a2c" stroke="none" stroke-width="1"/>
<circle cx="409.2" cy="53.4" r="0.8" fill="#a80a2c" stroke="none" stroke-width="1"/>
<circle cx="409.2" cy="84.3" r="0.8" fill="#274684" stroke="none" stroke-width="1"/>
<line x1="426.5" y1="75.6" x2="440.4" y2="75.6" stroke="#274684" stroke-width="1"/>
<circle cx="433.4" cy="75.6" r="1.3" fill="#274684" stroke="none" stroke-width="1"/>
<text x="442.3" y="78.1" font-size="6.8" text-anchor="start" fill="#1a1a1a" stroke="#1a1a1a" stroke-width="0.12">Sca-1<tspan font-size="5" baseline-shift="2.8">-</tspan></text>
<line x1="426.5" y1="85.7" x2="440.4" y2="85.7" stroke="#a80a2c" stroke-width="1"/>
<rect x="432.1" y="84.4" width="2.6" height="2.6" fill="#a80a2c" stroke="none" stroke-width="1"/>
<text x="442.3" y="88.2" font-size="6.8" text-anchor="start" fill="#1a1a1a" stroke="#1a1a1a" stroke-width="0.12">CD86<tspan font-size="5" baseline-shift="2.8">-</tspan></text>
<text x="7" y="154" font-size="12.2" text-anchor="start" fill="#000" font-weight="bold">C</text>
<line x1="42.3" y1="168" x2="42.3" y2="224.8" stroke="#111" stroke-width="1.2"/>
<line x1="40.0" y1="170.6" x2="42.3" y2="170.6" stroke="#111" stroke-width="1.08"/>
<text x="37.4" y="173.12" font-size="7" text-anchor="end" fill="#1a1a1a" stroke="#1a1a1a" stroke-width="0.12">8</text>
<line x1="40.0" y1="183.75" x2="42.3" y2="183.75" stroke="#111" stroke-width="1.08"/>
<text x="37.4" y="186.27" font-size="7" text-anchor="end" fill="#1a1a1a" stroke="#1a1a1a" stroke-width="0.12">6</text>
<line x1="40.0" y1="197.3" x2="42.3" y2="197.3" stroke="#111" stroke-width="1.08"/>
<text x="37.4" y="199.82000000000002" font-size="7" text-anchor="end" fill="#1a1a1a" stroke="#1a1a1a" stroke-width="0.12">4</text>
<line x1="40.0" y1="211.25" x2="42.3" y2="211.25" stroke="#111" stroke-width="1.08"/>
<text x="37.4" y="213.77" font-size="7" text-anchor="end" fill="#1a1a1a" stroke="#1a1a1a" stroke-width="0.12">2</text>
<line x1="40.0" y1="224.8" x2="42.3" y2="224.8" stroke="#111" stroke-width="1.08"/>
<text x="37.4" y="227.32000000000002" font-size="7" text-anchor="end" fill="#1a1a1a" stroke="#1a1a1a" stroke-width="0.12">0</text>
<line x1="42.3" y1="224.8" x2="78" y2="224.8" stroke="#111" stroke-width="1.2"/>
<line x1="42.3" y1="224.8" x2="42.3" y2="227.10000000000002" stroke="#111" stroke-width="1.08"/>
<text x="42.3" y="236.8" font-size="7" text-anchor="middle" fill="#1a1a1a" stroke="#1a1a1a" stroke-width="0.12">0</text>
<line x1="54.2" y1="224.8" x2="54.2" y2="227.10000000000002" stroke="#111" stroke-width="1.08"/>
<text x="54.2" y="236.8" font-size="7" text-anchor="middle" fill="#1a1a1a" stroke="#1a1a1a" stroke-width="0.12">24</text>
<line x1="66.1" y1="224.8" x2="66.1" y2="227.10000000000002" stroke="#111" stroke-width="1.08"/>
<text x="66.1" y="236.8" font-size="7" text-anchor="middle" fill="#1a1a1a" stroke="#1a1a1a" stroke-width="0.12">48</text>
<line x1="78" y1="224.8" x2="78" y2="227.10000000000002" stroke="#111" stroke-width="1.08"/>
<text x="78" y="236.8" font-size="7" text-anchor="middle" fill="#1a1a1a" stroke="#1a1a1a" stroke-width="0.12">72</text>
<text x="60.5" y="248" font-size="6.8" text-anchor="middle" fill="#1a1a1a" stroke="#1a1a1a" stroke-width="0.12">(hpi)</text>
<text x="17.9" y="195.9" font-size="6.9" text-anchor="middle" fill="#1a1a1a" stroke="#1a1a1a" stroke-width="0.12" transform="rotate(-90 17.9 195.9)" textLength="42.7" lengthAdjust="spacingAndGlyphs">Pro-erythroblast</text>
<text x="26.2" y="195.6" font-size="6.9" text-anchor="middle" fill="#1a1a1a" stroke="#1a1a1a" stroke-width="0.12" transform="rotate(-90 26.2 195.6)" textLength="46" lengthAdjust="spacingAndGlyphs">(X10<tspan font-size="4.6" baseline-shift="2.6">7</tspan>/hind limb)</text>
<path d="M42.3,198.39700000000002 L45.275,187.9035 L48.25,182.149 L51.224999999999994,185.8725 L54.199999999999996,195.012 L60.15,215.6605 L66.1,207.53650000000002 L78.0,212.95250000000001" fill="none" stroke="#274684" stroke-width="1.0"/>
<line x1="42.3" y1="203.81300000000002" x2="42.3" y2="192.98100000000002" stroke="#274684" stroke-width="0.85"/>
<line x1="40.5" y1="203.81300000000002" x2="44.099999999999994" y2="203.81300000000002" stroke="#274684" stroke-width="0.85"/>
<line x1="40.5" y1="192.98100000000002" x2="44.099999999999994" y2="192.98100000000002" stroke="#274684" stroke-width="0.85"/>
<circle cx="42.3" cy="198.39700000000002" r="1.45" fill="#274684" stroke="none" stroke-width="1"/>
<line x1="45.275" y1="189.9345" x2="45.275" y2="185.8725" stroke="#274684" stroke-width="0.85"/>
<line x1="43.475" y1="189.9345" x2="47.074999999999996" y2="189.9345" stroke="#274684" stroke-width="0.85"/>
<line x1="43.475" y1="185.8725" x2="47.074999999999996" y2="185.8725" stroke="#274684" stroke-width="0.85"/>
<circle cx="45.275" cy="187.9035" r="1.45" fill="#274684" stroke="none" stroke-width="1"/>
<line x1="48.25" y1="188.919" x2="48.25" y2="175.37900000000002" stroke="#274684" stroke-width="0.85"/>
<line x1="46.45" y1="188.919" x2="50.05" y2="188.919" stroke="#274684" stroke-width="0.85"/>
<line x1="46.45" y1="175.37900000000002" x2="50.05" y2="175.37900000000002" stroke="#274684" stroke-width="0.85"/>
<circle cx="48.25" cy="182.149" r="1.45" fill="#274684" stroke="none" stroke-width="1"/>
<line x1="51.224999999999994" y1="189.9345" x2="51.224999999999994" y2="181.81050000000002" stroke="#274684" stroke-width="0.85"/>
<line x1="49.425" y1="189.9345" x2="53.02499999999999" y2="189.9345" stroke="#274684" stroke-width="0.85"/>
<line x1="49.425" y1="181.81050000000002" x2="53.02499999999999" y2="181.81050000000002" stroke="#274684" stroke-width="0.85"/>
<circle cx="51.224999999999994" cy="185.8725" r="1.45" fill="#274684" stroke="none" stroke-width="1"/>
<line x1="54.199999999999996" y1="203.81300000000002" x2="54.199999999999996" y2="186.211" stroke="#274684" stroke-width="0.85"/>
<line x1="52.4" y1="203.81300000000002" x2="55.99999999999999" y2="203.81300000000002" stroke="#274684" stroke-width="0.85"/>
<line x1="52.4" y1="186.211" x2="55.99999999999999" y2="186.211" stroke="#274684" stroke-width="0.85"/>
<circle cx="54.199999999999996" cy="195.012" r="1.45" fill="#274684" stroke="none" stroke-width="1"/>
<line x1="60.15" y1="218.3685" x2="60.15" y2="212.95250000000001" stroke="#274684" stroke-width="0.85"/>
<line x1="58.35" y1="218.3685" x2="61.949999999999996" y2="218.3685" stroke="#274684" stroke-width="0.85"/>
<line x1="58.35" y1="212.95250000000001" x2="61.949999999999996" y2="212.95250000000001" stroke="#274684" stroke-width="0.85"/>
<circle cx="60.15" cy="215.6605" r="1.45" fill="#274684" stroke="none" stroke-width="1"/>
<line x1="66.1" y1="214.30650000000003" x2="66.1" y2="200.7665" stroke="#274684" stroke-width="0.85"/>
<line x1="64.3" y1="214.30650000000003" x2="67.89999999999999" y2="214.30650000000003" stroke="#274684" stroke-width="0.85"/>
<line x1="64.3" y1="200.7665" x2="67.89999999999999" y2="200.7665" stroke="#274684" stroke-width="0.85"/>
<circle cx="66.1" cy="207.53650000000002" r="1.45" fill="#274684" stroke="none" stroke-width="1"/>
<line x1="78.0" y1="215.6605" x2="78.0" y2="210.24450000000002" stroke="#274684" stroke-width="0.85"/>
<line x1="76.2" y1="215.6605" x2="79.8" y2="215.6605" stroke="#274684" stroke-width="0.85"/>
<line x1="76.2" y1="210.24450000000002" x2="79.8" y2="210.24450000000002" stroke="#274684" stroke-width="0.85"/>
<circle cx="78.0" cy="212.95250000000001" r="1.45" fill="#274684" stroke="none" stroke-width="1"/>
<text x="91" y="154" font-size="12.2" text-anchor="start" fill="#000" font-weight="bold">D</text>
<text x="150" y="167.4" font-size="6.8" text-anchor="middle" fill="#1a1a1a" stroke="#1a1a1a" stroke-width="0.12">(hpi)</text>
<text x="116.25" y="178.3" font-size="7.2" text-anchor="middle" fill="#1a1a1a" stroke="#1a1a1a" stroke-width="0.12">0</text>
<text x="138" y="178.3" font-size="7.2" text-anchor="middle" fill="#1a1a1a" stroke="#1a1a1a" stroke-width="0.12">18</text>
<text x="159.5" y="178.3" font-size="7.2" text-anchor="middle" fill="#1a1a1a" stroke="#1a1a1a" stroke-width="0.12">48</text>
<text x="181.25" y="178.3" font-size="7.2" text-anchor="middle" fill="#1a1a1a" stroke="#1a1a1a" stroke-width="0.12">72</text>
<defs>
<linearGradient id="dbg" x1="0" y1="0" x2="0" y2="1"><stop offset="0" stop-color="#e8e9ed"/><stop offset="0.65" stop-color="#e4e5e9"/><stop offset="0.67" stop-color="#dfe0e4"/><stop offset="1" stop-color="#e2e3e7"/></linearGradient>
<linearGradient id="tedge" x1="0" y1="0" x2="1" y2="0"><stop offset="0" stop-color="#5a4a40" stop-opacity="0.55"/><stop offset="0.2" stop-color="#5a4a40" stop-opacity="0.12"/><stop offset="0.5" stop-color="#fff" stop-opacity="0.05"/><stop offset="0.8" stop-color="#5a4a40" stop-opacity="0.12"/><stop offset="1" stop-color="#5a4a40" stop-opacity="0.55"/></linearGradient>
<linearGradient id="t0" x1="0" y1="0" x2="0" y2="1"><stop offset="0" stop-color="#b09484"/><stop offset="0.4" stop-color="#bc9a86"/><stop offset="0.5" stop-color="#d6a88a"/><stop offset="0.85" stop-color="#dcb096"/><stop offset="1" stop-color="#d4b4a0"/></linearGradient>
<linearGradient id="t18" x1="0" y1="0" x2="0" y2="1"><stop offset="0" stop-color="#aa7a66"/><stop offset="0.4" stop-color="#b87458"/><stop offset="0.5" stop-color="#cf7a56"/><stop offset="0.85" stop-color="#d88c68"/><stop offset="1" stop-color="#d4a088"/></linearGradient>
<linearGradient id="t48" x1="0" y1="0" x2="0" y2="1"><stop offset="0" stop-color="#b8a092"/><stop offset="0.4" stop-color="#c2a28e"/><stop offset="0.5" stop-color="#d8b096"/><stop offset="0.85" stop-color="#dfbaa2"/><stop offset="1" stop-color="#d8c0b0"/></linearGradient>
<linearGradient id="t72" x1="0" y1="0" x2="0" y2="1"><stop offset="0" stop-color="#b8bcbe"/><stop offset="0.4" stop-color="#c4c6c2"/><stop offset="0.5" stop-color="#d6d3c8"/><stop offset="0.85" stop-color="#dbd7cc"/><stop offset="1" stop-color="#d2d0c8"/></linearGradient>
</defs>
<rect x="103.8" y="182.8" width="92.7" height="51" fill="url(#dbg)" stroke="none" stroke-width="1"/>
<path d="M108.0,182.8 L125.4,182.8 L125.10000000000001,204 Q124.8,208 124.0,211 Q121.9,222 119.3,228.5 Q116.7,231 114.10000000000001,228.5 Q111.5,222 109.4,211 Q108.60000000000001,208 108.3,204 Z" fill="url(#t0)" stroke="none" stroke-width="1"/>
<path d="M108.0,182.8 L125.4,182.8 L125.10000000000001,204 Q124.8,208 124.0,211 Q121.9,222 119.3,228.5 Q116.7,231 114.10000000000001,228.5 Q111.5,222 109.4,211 Q108.60000000000001,208 108.3,204 Z" fill="url(#tedge)" stroke="none" stroke-width="1"/>
<path d="M110.9,183 L122.5,183 L122.3,197 Q119.7,206 116.7,210 Q113.7,206 111.10000000000001,197 Z" fill="#ffffff" stroke="none" stroke-width="1" opacity="0.28"/>
<line x1="111.2" y1="185.5" x2="113.5" y2="185.5" stroke="#2e2e66" stroke-width="0.8" opacity="0.8"/>
<line x1="115.5" y1="185.5" x2="117.9" y2="185.5" stroke="#2e2e66" stroke-width="0.8" opacity="0.7"/>
<line x1="119.9" y1="185.5" x2="121.9" y2="185.5" stroke="#2e2e66" stroke-width="0.7" opacity="0.55"/>
<line x1="111.2" y1="190" x2="113.5" y2="190" stroke="#2e2e66" stroke-width="0.8" opacity="0.8"/>
<line x1="115.5" y1="190" x2="117.9" y2="190" stroke="#2e2e66" stroke-width="0.8" opacity="0.7"/>
<line x1="119.9" y1="190" x2="121.9" y2="190" stroke="#2e2e66" stroke-width="0.7" opacity="0.55"/>
<line x1="111.2" y1="194.5" x2="113.5" y2="194.5" stroke="#2e2e66" stroke-width="0.8" opacity="0.8"/>
<line x1="115.5" y1="194.5" x2="117.9" y2="194.5" stroke="#2e2e66" stroke-width="0.8" opacity="0.7"/>
<line x1="119.9" y1="194.5" x2="121.9" y2="194.5" stroke="#2e2e66" stroke-width="0.7" opacity="0.55"/>
<line x1="111.2" y1="199" x2="113.5" y2="199" stroke="#2e2e66" stroke-width="0.8" opacity="0.8"/>
<line x1="115.5" y1="199" x2="117.9" y2="199" stroke="#2e2e66" stroke-width="0.8" opacity="0.7"/>
<line x1="119.9" y1="199" x2="121.9" y2="199" stroke="#2e2e66" stroke-width="0.7" opacity="0.55"/>
<line x1="115.10000000000001" y1="186" x2="115.10000000000001" y2="200" stroke="#2e2e66" stroke-width="1.0" opacity="0.5"/>
<ellipse cx="117.2" cy="205.5" rx="2.8" ry="1.6" fill="#fbf4ee" opacity="0.85"/>
<path d="M112.2,203 Q115.7,207.5 118.7,206" fill="none" stroke="#f6efe8" stroke-width="0.9" opacity="0.7"/>
<ellipse cx="116.7" cy="229.4" rx="2.4" ry="1.5" fill="#4a423c" opacity="0.85"/>
<path d="M130.5,182.8 L147.89999999999998,182.8 L147.6,204 Q147.29999999999998,208 146.5,211 Q144.39999999999998,222 141.79999999999998,228.5 Q139.2,231 136.6,228.5 Q134.0,222 131.89999999999998,211 Q131.1,208 130.79999999999998,204 Z" fill="url(#t18)" stroke="none" stroke-width="1"/>
<path d="M130.5,182.8 L147.89999999999998,182.8 L147.6,204 Q147.29999999999998,208 146.5,211 Q144.39999999999998,222 141.79999999999998,228.5 Q139.2,231 136.6,228.5 Q134.0,222 131.89999999999998,211 Q131.1,208 130.79999999999998,204 Z" fill="url(#tedge)" stroke="none" stroke-width="1"/>
<path d="M133.39999999999998,183 L145.0,183 L144.79999999999998,197 Q142.2,206 139.2,210 Q136.2,206 133.6,197 Z" fill="#ffffff" stroke="none" stroke-width="1" opacity="0.28"/>
<line x1="133.7" y1="185.5" x2="136.0" y2="185.5" stroke="#2e2e66" stroke-width="0.8" opacity="0.8"/>
<line x1="138.0" y1="185.5" x2="140.39999999999998" y2="185.5" stroke="#2e2e66" stroke-width="0.8" opacity="0.7"/>
<line x1="142.39999999999998" y1="185.5" x2="144.39999999999998" y2="185.5" stroke="#2e2e66" stroke-width="0.7" opacity="0.55"/>
<line x1="133.7" y1="190" x2="136.0" y2="190" stroke="#2e2e66" stroke-width="0.8" opacity="0.8"/>
<line x1="138.0" y1="190" x2="140.39999999999998" y2="190" stroke="#2e2e66" stroke-width="0.8" opacity="0.7"/>
<line x1="142.39999999999998" y1="190" x2="144.39999999999998" y2="190" stroke="#2e2e66" stroke-width="0.7" opacity="0.55"/>
<line x1="133.7" y1="194.5" x2="136.0" y2="194.5" stroke="#2e2e66" stroke-width="0.8" opacity="0.8"/>
<line x1="138.0" y1="194.5" x2="140.39999999999998" y2="194.5" stroke="#2e2e66" stroke-width="0.8" opacity="0.7"/>
<line x1="142.39999999999998" y1="194.5" x2="144.39999999999998" y2="194.5" stroke="#2e2e66" stroke-width="0.7" opacity="0.55"/>
<line x1="133.7" y1="199" x2="136.0" y2="199" stroke="#2e2e66" stroke-width="0.8" opacity="0.8"/>
<line x1="138.0" y1="199" x2="140.39999999999998" y2="199" stroke="#2e2e66" stroke-width="0.8" opacity="0.7"/>
<line x1="142.39999999999998" y1="199" x2="144.39999999999998" y2="199" stroke="#2e2e66" stroke-width="0.7" opacity="0.55"/>
<line x1="137.6" y1="186" x2="137.6" y2="200" stroke="#2e2e66" stroke-width="1.0" opacity="0.5"/>
<ellipse cx="139.7" cy="205.5" rx="2.8" ry="1.6" fill="#fbf4ee" opacity="0.85"/>
<path d="M134.7,203 Q138.2,207.5 141.2,206" fill="none" stroke="#f6efe8" stroke-width="0.9" opacity="0.7"/>
<ellipse cx="139.2" cy="229.4" rx="2.4" ry="1.5" fill="#4a423c" opacity="0.85"/>
<path d="M152.3,182.8 L169.7,182.8 L169.4,204 Q169.1,208 168.3,211 Q166.2,222 163.6,228.5 Q161,231 158.4,228.5 Q155.8,222 153.7,211 Q152.9,208 152.6,204 Z" fill="url(#t48)" stroke="none" stroke-width="1"/>
<path d="M152.3,182.8 L169.7,182.8 L169.4,204 Q169.1,208 168.3,211 Q166.2,222 163.6,228.5 Q161,231 158.4,228.5 Q155.8,222 153.7,211 Q152.9,208 152.6,204 Z" fill="url(#tedge)" stroke="none" stroke-width="1"/>
<path d="M155.2,183 L166.8,183 L166.6,197 Q164,206 161,210 Q158,206 155.4,197 Z" fill="#ffffff" stroke="none" stroke-width="1" opacity="0.28"/>
<line x1="155.5" y1="185.5" x2="157.8" y2="185.5" stroke="#2e2e66" stroke-width="0.8" opacity="0.8"/>
<line x1="159.8" y1="185.5" x2="162.2" y2="185.5" stroke="#2e2e66" stroke-width="0.8" opacity="0.7"/>
<line x1="164.2" y1="185.5" x2="166.2" y2="185.5" stroke="#2e2e66" stroke-width="0.7" opacity="0.55"/>
<line x1="155.5" y1="190" x2="157.8" y2="190" stroke="#2e2e66" stroke-width="0.8" opacity="0.8"/>
<line x1="159.8" y1="190" x2="162.2" y2="190" stroke="#2e2e66" stroke-width="0.8" opacity="0.7"/>
<line x1="164.2" y1="190" x2="166.2" y2="190" stroke="#2e2e66" stroke-width="0.7" opacity="0.55"/>
<line x1="155.5" y1="194.5" x2="157.8" y2="194.5" stroke="#2e2e66" stroke-width="0.8" opacity="0.8"/>
<line x1="159.8" y1="194.5" x2="162.2" y2="194.5" stroke="#2e2e66" stroke-width="0.8" opacity="0.7"/>
<line x1="164.2" y1="194.5" x2="166.2" y2="194.5" stroke="#2e2e66" stroke-width="0.7" opacity="0.55"/>
<line x1="155.5" y1="199" x2="157.8" y2="199" stroke="#2e2e66" stroke-width="0.8" opacity="0.8"/>
<line x1="159.8" y1="199" x2="162.2" y2="199" stroke="#2e2e66" stroke-width="0.8" opacity="0.7"/>
<line x1="164.2" y1="199" x2="166.2" y2="199" stroke="#2e2e66" stroke-width="0.7" opacity="0.55"/>
<line x1="159.4" y1="186" x2="159.4" y2="200" stroke="#2e2e66" stroke-width="1.0" opacity="0.5"/>
<ellipse cx="161.5" cy="205.5" rx="2.8" ry="1.6" fill="#fbf4ee" opacity="0.85"/>
<path d="M156.5,203 Q160,207.5 163,206" fill="none" stroke="#f6efe8" stroke-width="0.9" opacity="0.7"/>
<ellipse cx="161" cy="229.4" rx="2.4" ry="1.5" fill="#4a423c" opacity="0.85"/>
<path d="M174.60000000000002,182.8 L192.0,182.8 L191.70000000000002,204 Q191.4,208 190.60000000000002,211 Q188.5,222 185.9,228.5 Q183.3,231 180.70000000000002,228.5 Q178.10000000000002,222 176.0,211 Q175.20000000000002,208 174.9,204 Z" fill="url(#t72)" stroke="none" stroke-width="1"/>
<path d="M174.60000000000002,182.8 L192.0,182.8 L191.70000000000002,204 Q191.4,208 190.60000000000002,211 Q188.5,222 185.9,228.5 Q183.3,231 180.70000000000002,228.5 Q178.10000000000002,222 176.0,211 Q175.20000000000002,208 174.9,204 Z" fill="url(#tedge)" stroke="none" stroke-width="1"/>
<path d="M177.5,183 L189.10000000000002,183 L188.9,197 Q186.3,206 183.3,210 Q180.3,206 177.70000000000002,197 Z" fill="#ffffff" stroke="none" stroke-width="1" opacity="0.28"/>
<line x1="177.8" y1="185.5" x2="180.10000000000002" y2="185.5" stroke="#3a4aa0" stroke-width="0.8" opacity="0.8"/>
<line x1="182.10000000000002" y1="185.5" x2="184.5" y2="185.5" stroke="#3a4aa0" stroke-width="0.8" opacity="0.7"/>
<line x1="186.5" y1="185.5" x2="188.5" y2="185.5" stroke="#3a4aa0" stroke-width="0.7" opacity="0.55"/>
<line x1="177.8" y1="190" x2="180.10000000000002" y2="190" stroke="#3a4aa0" stroke-width="0.8" opacity="0.8"/>
<line x1="182.10000000000002" y1="190" x2="184.5" y2="190" stroke="#3a4aa0" stroke-width="0.8" opacity="0.7"/>
<line x1="186.5" y1="190" x2="188.5" y2="190" stroke="#3a4aa0" stroke-width="0.7" opacity="0.55"/>
<line x1="177.8" y1="194.5" x2="180.10000000000002" y2="194.5" stroke="#3a4aa0" stroke-width="0.8" opacity="0.8"/>
<line x1="182.10000000000002" y1="194.5" x2="184.5" y2="194.5" stroke="#3a4aa0" stroke-width="0.8" opacity="0.7"/>
<line x1="186.5" y1="194.5" x2="188.5" y2="194.5" stroke="#3a4aa0" stroke-width="0.7" opacity="0.55"/>
<line x1="177.8" y1="199" x2="180.10000000000002" y2="199" stroke="#3a4aa0" stroke-width="0.8" opacity="0.8"/>
<line x1="182.10000000000002" y1="199" x2="184.5" y2="199" stroke="#3a4aa0" stroke-width="0.8" opacity="0.7"/>
<line x1="186.5" y1="199" x2="188.5" y2="199" stroke="#3a4aa0" stroke-width="0.7" opacity="0.55"/>
<line x1="181.70000000000002" y1="186" x2="181.70000000000002" y2="200" stroke="#3a4aa0" stroke-width="1.0" opacity="0.5"/>
<ellipse cx="183.8" cy="205.5" rx="2.8" ry="1.6" fill="#fbf4ee" opacity="0.85"/>
<path d="M178.8,203 Q182.3,207.5 185.3,206" fill="none" stroke="#f6efe8" stroke-width="0.9" opacity="0.7"/>
<ellipse cx="183.3" cy="229.4" rx="2.4" ry="1.5" fill="#4a423c" opacity="0.85"/>
<text x="219" y="153.75" font-size="12.2" text-anchor="start" fill="#000" font-weight="bold">E</text>
<text x="275" y="158.8" font-size="8.6" text-anchor="middle" fill="#1a1a1a" stroke="#1a1a1a" stroke-width="0.12" textLength="12.5" lengthAdjust="spacingAndGlyphs">BM</text>
<text x="358.75" y="158.8" font-size="8.6" text-anchor="middle" fill="#1a1a1a" stroke="#1a1a1a" stroke-width="0.12" textLength="21.5" lengthAdjust="spacingAndGlyphs">Blood</text>
<text x="442.5" y="158.8" font-size="8.6" text-anchor="middle" fill="#1a1a1a" stroke="#1a1a1a" stroke-width="0.12" textLength="26" lengthAdjust="spacingAndGlyphs">Spleen</text>
<line x1="257" y1="168" x2="257" y2="224" stroke="#111" stroke-width="1.2"/>
<line x1="254.7" y1="170.2" x2="257" y2="170.2" stroke="#111" stroke-width="1.08"/>
<text x="250.49999999999997" y="172.72" font-size="7" text-anchor="end" fill="#1a1a1a" stroke="#1a1a1a" stroke-width="0.12">30</text>
<line x1="254.7" y1="188.3" x2="257" y2="188.3" stroke="#111" stroke-width="1.08"/>
<text x="250.49999999999997" y="190.82000000000002" font-size="7" text-anchor="end" fill="#1a1a1a" stroke="#1a1a1a" stroke-width="0.12">20</text>
<line x1="254.7" y1="206.25" x2="257" y2="206.25" stroke="#111" stroke-width="1.08"/>
<text x="250.49999999999997" y="208.77" font-size="7" text-anchor="end" fill="#1a1a1a" stroke="#1a1a1a" stroke-width="0.12">10</text>
<line x1="254.7" y1="224" x2="257" y2="224" stroke="#111" stroke-width="1.08"/>
<text x="250.49999999999997" y="226.52" font-size="7" text-anchor="end" fill="#1a1a1a" stroke="#1a1a1a" stroke-width="0.12">0</text>
<line x1="257" y1="224" x2="292" y2="224" stroke="#111" stroke-width="1.2"/>
<line x1="257" y1="224" x2="257" y2="226.3" stroke="#111" stroke-width="1.08"/>
<text x="257" y="235.7" font-size="7" text-anchor="middle" fill="#1a1a1a" stroke="#1a1a1a" stroke-width="0.12">0</text>
<line x1="268.7" y1="224" x2="268.7" y2="226.3" stroke="#111" stroke-width="1.08"/>
<text x="268.7" y="235.7" font-size="7" text-anchor="middle" fill="#1a1a1a" stroke="#1a1a1a" stroke-width="0.12">24</text>
<line x1="280.3" y1="224" x2="280.3" y2="226.3" stroke="#111" stroke-width="1.08"/>
<text x="280.3" y="235.7" font-size="7" text-anchor="middle" fill="#1a1a1a" stroke="#1a1a1a" stroke-width="0.12">48</text>
<line x1="292" y1="224" x2="292" y2="226.3" stroke="#111" stroke-width="1.08"/>
<text x="292" y="235.7" font-size="7" text-anchor="middle" fill="#1a1a1a" stroke="#1a1a1a" stroke-width="0.12">72</text>
<text x="275" y="248" font-size="6.8" text-anchor="middle" fill="#1a1a1a" stroke="#1a1a1a" stroke-width="0.12">(hpi)</text>
<text x="229.5" y="196" font-size="6.8" text-anchor="middle" fill="#1a1a1a" stroke="#1a1a1a" stroke-width="0.12" transform="rotate(-90 229.5 196)" textLength="56" lengthAdjust="spacingAndGlyphs">TER119<tspan font-size="5" baseline-shift="2.8">+</tspan>CD45<tspan font-size="5" baseline-shift="2.8">-</tspan> cells</text>
<text x="238.5" y="196" font-size="6.8" text-anchor="middle" fill="#1a1a1a" stroke="#1a1a1a" stroke-width="0.12" transform="rotate(-90 238.5 196)" textLength="47" lengthAdjust="spacingAndGlyphs">(X10<tspan font-size="4.2" baseline-shift="2.4">7</tspan>/hind limb)</text>
<path d="M257.0,210.575 L259.9166666666667,201.804 L262.8333333333333,190.885 L265.75,186.41 L268.6666666666667,206.1 L274.5,205.20499999999998 L280.3333333333333,210.39600000000002 L292.0,222.21" fill="none" stroke="#274684" stroke-width="1.0"/>
<line x1="257.0" y1="212.723" x2="257.0" y2="208.427" stroke="#274684" stroke-width="0.85"/>
<line x1="255.2" y1="212.723" x2="258.8" y2="212.723" stroke="#274684" stroke-width="0.85"/>
<line x1="255.2" y1="208.427" x2="258.8" y2="208.427" stroke="#274684" stroke-width="0.85"/>
<circle cx="257.0" cy="210.575" r="1.45" fill="#274684" stroke="none" stroke-width="1"/>
<line x1="259.9166666666667" y1="203.236" x2="259.9166666666667" y2="200.37199999999999" stroke="#274684" stroke-width="0.85"/>
<line x1="258.1166666666667" y1="203.236" x2="261.7166666666667" y2="203.236" stroke="#274684" stroke-width="0.85"/>
<line x1="258.1166666666667" y1="200.37199999999999" x2="261.7166666666667" y2="200.37199999999999" stroke="#274684" stroke-width="0.85"/>
<circle cx="259.9166666666667" cy="201.804" r="1.45" fill="#274684" stroke="none" stroke-width="1"/>
<line x1="262.8333333333333" y1="193.57" x2="262.8333333333333" y2="188.2" stroke="#274684" stroke-width="0.85"/>
<line x1="261.0333333333333" y1="193.57" x2="264.6333333333333" y2="193.57" stroke="#274684" stroke-width="0.85"/>
<line x1="261.0333333333333" y1="188.2" x2="264.6333333333333" y2="188.2" stroke="#274684" stroke-width="0.85"/>
<circle cx="262.8333333333333" cy="190.885" r="1.45" fill="#274684" stroke="none" stroke-width="1"/>
<line x1="265.75" y1="194.465" x2="265.75" y2="178.355" stroke="#274684" stroke-width="0.85"/>
<line x1="263.95" y1="194.465" x2="267.55" y2="194.465" stroke="#274684" stroke-width="0.85"/>
<line x1="263.95" y1="178.355" x2="267.55" y2="178.355" stroke="#274684" stroke-width="0.85"/>
<circle cx="265.75" cy="186.41" r="1.45" fill="#274684" stroke="none" stroke-width="1"/>
<line x1="268.6666666666667" y1="210.038" x2="268.6666666666667" y2="202.162" stroke="#274684" stroke-width="0.85"/>
<line x1="266.8666666666667" y1="210.038" x2="270.4666666666667" y2="210.038" stroke="#274684" stroke-width="0.85"/>
<line x1="266.8666666666667" y1="202.162" x2="270.4666666666667" y2="202.162" stroke="#274684" stroke-width="0.85"/>
<circle cx="268.6666666666667" cy="206.1" r="1.45" fill="#274684" stroke="none" stroke-width="1"/>
<line x1="274.5" y1="206.637" x2="274.5" y2="203.773" stroke="#274684" stroke-width="0.85"/>
<line x1="272.7" y1="206.637" x2="276.3" y2="206.637" stroke="#274684" stroke-width="0.85"/>
<line x1="272.7" y1="203.773" x2="276.3" y2="203.773" stroke="#274684" stroke-width="0.85"/>
<circle cx="274.5" cy="205.20499999999998" r="1.45" fill="#274684" stroke="none" stroke-width="1"/>
<line x1="280.3333333333333" y1="211.828" x2="280.3333333333333" y2="208.964" stroke="#274684" stroke-width="0.85"/>
<line x1="278.5333333333333" y1="211.828" x2="282.1333333333333" y2="211.828" stroke="#274684" stroke-width="0.85"/>
<line x1="278.5333333333333" y1="208.964" x2="282.1333333333333" y2="208.964" stroke="#274684" stroke-width="0.85"/>
<circle cx="280.3333333333333" cy="210.39600000000002" r="1.45" fill="#274684" stroke="none" stroke-width="1"/>
<line x1="292.0" y1="223.105" x2="292.0" y2="221.315" stroke="#274684" stroke-width="0.85"/>
<line x1="290.2" y1="223.105" x2="293.8" y2="223.105" stroke="#274684" stroke-width="0.85"/>
<line x1="290.2" y1="221.315" x2="293.8" y2="221.315" stroke="#274684" stroke-width="0.85"/>
<circle cx="292.0" cy="222.21" r="1.45" fill="#274684" stroke="none" stroke-width="1"/>
<path d="M257.5,174.10000000000002 L257.5,172.3 L265.6,172.3 L265.6,174.10000000000002" fill="none" stroke="#1a1a1a" stroke-width="1.1"/>
<circle cx="261.7" cy="169.4" r="0.8" fill="#1a1a1a"/>
<path d="M265.6,174.10000000000002 L265.6,172.3 L269.6,172.3 L269.6,174.10000000000002" fill="none" stroke="#1a1a1a" stroke-width="1.1"/>
<circle cx="268" cy="169.1" r="0.8" fill="#1a1a1a"/>
<path d="M265.3,166.9 L265.3,165.1 L275.1,165.1 L275.1,166.9" fill="none" stroke="#1a1a1a" stroke-width="1.1"/>
<circle cx="270.3" cy="162.2" r="0.8" fill="#1a1a1a"/>
<line x1="340" y1="168" x2="340" y2="224.5" stroke="#111" stroke-width="1.2"/>
<line x1="337.7" y1="169.5" x2="340" y2="169.5" stroke="#111" stroke-width="1.08"/>
<text x="333.5" y="172.02" font-size="7" text-anchor="end" fill="#1a1a1a" stroke="#1a1a1a" stroke-width="0.12">12</text>
<line x1="337.7" y1="183.75" x2="340" y2="183.75" stroke="#111" stroke-width="1.08"/>
<text x="333.5" y="186.27" font-size="7" text-anchor="end" fill="#1a1a1a" stroke="#1a1a1a" stroke-width="0.12">11</text>
<line x1="337.7" y1="197" x2="340" y2="197" stroke="#111" stroke-width="1.08"/>
<text x="333.5" y="199.52" font-size="7" text-anchor="end" fill="#1a1a1a" stroke="#1a1a1a" stroke-width="0.12">10</text>
<line x1="337.7" y1="210.5" x2="340" y2="210.5" stroke="#111" stroke-width="1.08"/>
<text x="333.5" y="213.02" font-size="7" text-anchor="end" fill="#1a1a1a" stroke="#1a1a1a" stroke-width="0.12">9</text>
<line x1="337.7" y1="224.5" x2="340" y2="224.5" stroke="#111" stroke-width="1.08"/>
<text x="333.5" y="227.02" font-size="7" text-anchor="end" fill="#1a1a1a" stroke="#1a1a1a" stroke-width="0.12">0</text>
<line x1="340" y1="224.5" x2="375" y2="224.5" stroke="#111" stroke-width="1.2"/>
<line x1="340" y1="224.5" x2="340" y2="226.8" stroke="#111" stroke-width="1.08"/>
<text x="340" y="235.7" font-size="7" text-anchor="middle" fill="#1a1a1a" stroke="#1a1a1a" stroke-width="0.12">0</text>
<line x1="351.7" y1="224.5" x2="351.7" y2="226.8" stroke="#111" stroke-width="1.08"/>
<text x="351.7" y="235.7" font-size="7" text-anchor="middle" fill="#1a1a1a" stroke="#1a1a1a" stroke-width="0.12">24</text>
<line x1="363.3" y1="224.5" x2="363.3" y2="226.8" stroke="#111" stroke-width="1.08"/>
<text x="363.3" y="235.7" font-size="7" text-anchor="middle" fill="#1a1a1a" stroke="#1a1a1a" stroke-width="0.12">48</text>
<line x1="375" y1="224.5" x2="375" y2="226.8" stroke="#111" stroke-width="1.08"/>
<text x="375" y="235.7" font-size="7" text-anchor="middle" fill="#1a1a1a" stroke="#1a1a1a" stroke-width="0.12">72</text>
<text x="358.75" y="248" font-size="6.8" text-anchor="middle" fill="#1a1a1a" stroke="#1a1a1a" stroke-width="0.12">(hpi)</text>
<text x="312.5" y="196" font-size="6.8" text-anchor="middle" fill="#1a1a1a" stroke="#1a1a1a" stroke-width="0.12" transform="rotate(-90 312.5 196)" textLength="56" lengthAdjust="spacingAndGlyphs">TER119<tspan font-size="5" baseline-shift="2.8">+</tspan>CD45<tspan font-size="5" baseline-shift="2.8">-</tspan> cells</text>
<text x="321.5" y="195" font-size="6.8" text-anchor="middle" fill="#1a1a1a" stroke="#1a1a1a" stroke-width="0.12" transform="rotate(-90 321.5 195)" textLength="25" lengthAdjust="spacingAndGlyphs">(X10<tspan font-size="4.2" baseline-shift="2.4">6</tspan>/ul)</text>
<path d="M340.0,203.66400000000002 L342.9166666666667,197.136 L345.8333333333333,196.45600000000002 L348.75,213.32 L351.6666666666667,197.136 L357.5,185.98399999999998 L363.3333333333333,194.552 L375.0,204.344" fill="none" stroke="#274684" stroke-width="1.0"/>
<line x1="340.0" y1="206.384" x2="340.0" y2="200.94400000000002" stroke="#274684" stroke-width="0.85"/>
<line x1="338.2" y1="206.384" x2="341.8" y2="206.384" stroke="#274684" stroke-width="0.85"/>
<line x1="338.2" y1="200.94400000000002" x2="341.8" y2="200.94400000000002" stroke="#274684" stroke-width="0.85"/>
<circle cx="340.0" cy="203.66400000000002" r="1.45" fill="#274684" stroke="none" stroke-width="1"/>
<line x1="342.9166666666667" y1="197.816" x2="342.9166666666667" y2="196.456" stroke="#274684" stroke-width="0.85"/>
<line x1="341.1166666666667" y1="197.816" x2="344.7166666666667" y2="197.816" stroke="#274684" stroke-width="0.85"/>
<line x1="341.1166666666667" y1="196.456" x2="344.7166666666667" y2="196.456" stroke="#274684" stroke-width="0.85"/>
<circle cx="342.9166666666667" cy="197.136" r="1.45" fill="#274684" stroke="none" stroke-width="1"/>
<line x1="345.8333333333333" y1="201.216" x2="345.8333333333333" y2="191.69600000000003" stroke="#274684" stroke-width="0.85"/>
<line x1="344.0333333333333" y1="201.216" x2="347.6333333333333" y2="201.216" stroke="#274684" stroke-width="0.85"/>
<line x1="344.0333333333333" y1="191.69600000000003" x2="347.6333333333333" y2="191.69600000000003" stroke="#274684" stroke-width="0.85"/>
<circle cx="345.8333333333333" cy="196.45600000000002" r="1.45" fill="#274684" stroke="none" stroke-width="1"/>
<line x1="348.75" y1="216.72" x2="348.75" y2="209.92" stroke="#274684" stroke-width="0.85"/>
<line x1="346.95" y1="216.72" x2="350.55" y2="216.72" stroke="#274684" stroke-width="0.85"/>
<line x1="346.95" y1="209.92" x2="350.55" y2="209.92" stroke="#274684" stroke-width="0.85"/>
<circle cx="348.75" cy="213.32" r="1.45" fill="#274684" stroke="none" stroke-width="1"/>
<line x1="351.6666666666667" y1="200.808" x2="351.6666666666667" y2="193.464" stroke="#274684" stroke-width="0.85"/>
<line x1="349.8666666666667" y1="200.808" x2="353.4666666666667" y2="200.808" stroke="#274684" stroke-width="0.85"/>
<line x1="349.8666666666667" y1="193.464" x2="353.4666666666667" y2="193.464" stroke="#274684" stroke-width="0.85"/>
<circle cx="351.6666666666667" cy="197.136" r="1.45" fill="#274684" stroke="none" stroke-width="1"/>
<line x1="357.5" y1="193.464" x2="357.5" y2="178.504" stroke="#274684" stroke-width="0.85"/>
<line x1="355.7" y1="193.464" x2="359.3" y2="193.464" stroke="#274684" stroke-width="0.85"/>
<line x1="355.7" y1="178.504" x2="359.3" y2="178.504" stroke="#274684" stroke-width="0.85"/>
<circle cx="357.5" cy="185.98399999999998" r="1.45" fill="#274684" stroke="none" stroke-width="1"/>
<line x1="363.3333333333333" y1="195.23200000000003" x2="363.3333333333333" y2="193.87199999999999" stroke="#274684" stroke-width="0.85"/>
<line x1="361.5333333333333" y1="195.23200000000003" x2="365.1333333333333" y2="195.23200000000003" stroke="#274684" stroke-width="0.85"/>
<line x1="361.5333333333333" y1="193.87199999999999" x2="365.1333333333333" y2="193.87199999999999" stroke="#274684" stroke-width="0.85"/>
<circle cx="363.3333333333333" cy="194.552" r="1.45" fill="#274684" stroke="none" stroke-width="1"/>
<line x1="375.0" y1="206.79199999999997" x2="375.0" y2="201.896" stroke="#274684" stroke-width="0.85"/>
<line x1="373.2" y1="206.79199999999997" x2="376.8" y2="206.79199999999997" stroke="#274684" stroke-width="0.85"/>
<line x1="373.2" y1="201.896" x2="376.8" y2="201.896" stroke="#274684" stroke-width="0.85"/>
<circle cx="375.0" cy="204.344" r="1.45" fill="#274684" stroke="none" stroke-width="1"/>
<path d="M349.4,176.20000000000002 L349.4,174.4 L358.4,174.4 L358.4,176.20000000000002" fill="none" stroke="#1a1a1a" stroke-width="1.1"/>
<circle cx="353.8" cy="171.6" r="0.8" fill="#1a1a1a"/>
<line x1="424.25" y1="168" x2="424.25" y2="224.5" stroke="#111" stroke-width="1.2"/>
<line x1="421.95" y1="169.5" x2="424.25" y2="169.5" stroke="#111" stroke-width="1.08"/>
<text x="417.75" y="172.02" font-size="7" text-anchor="end" fill="#1a1a1a" stroke="#1a1a1a" stroke-width="0.12">40</text>
<line x1="421.95" y1="183.25" x2="424.25" y2="183.25" stroke="#111" stroke-width="1.08"/>
<text x="417.75" y="185.77" font-size="7" text-anchor="end" fill="#1a1a1a" stroke="#1a1a1a" stroke-width="0.12">30</text>
<line x1="421.95" y1="197" x2="424.25" y2="197" stroke="#111" stroke-width="1.08"/>
<text x="417.75" y="199.52" font-size="7" text-anchor="end" fill="#1a1a1a" stroke="#1a1a1a" stroke-width="0.12">20</text>
<line x1="421.95" y1="210.5" x2="424.25" y2="210.5" stroke="#111" stroke-width="1.08"/>
<text x="417.75" y="213.02" font-size="7" text-anchor="end" fill="#1a1a1a" stroke="#1a1a1a" stroke-width="0.12">10</text>
<line x1="421.95" y1="224.5" x2="424.25" y2="224.5" stroke="#111" stroke-width="1.08"/>
<text x="417.75" y="227.02" font-size="7" text-anchor="end" fill="#1a1a1a" stroke="#1a1a1a" stroke-width="0.12">0</text>
<line x1="424.25" y1="224.5" x2="459.25" y2="224.5" stroke="#111" stroke-width="1.2"/>
<line x1="424.25" y1="224.5" x2="424.25" y2="226.8" stroke="#111" stroke-width="1.08"/>
<text x="424.25" y="235.7" font-size="7" text-anchor="middle" fill="#1a1a1a" stroke="#1a1a1a" stroke-width="0.12">0</text>
<line x1="435.9" y1="224.5" x2="435.9" y2="226.8" stroke="#111" stroke-width="1.08"/>
<text x="435.9" y="235.7" font-size="7" text-anchor="middle" fill="#1a1a1a" stroke="#1a1a1a" stroke-width="0.12">24</text>
<line x1="447.6" y1="224.5" x2="447.6" y2="226.8" stroke="#111" stroke-width="1.08"/>
<text x="447.6" y="235.7" font-size="7" text-anchor="middle" fill="#1a1a1a" stroke="#1a1a1a" stroke-width="0.12">48</text>
<line x1="459.25" y1="224.5" x2="459.25" y2="226.8" stroke="#111" stroke-width="1.08"/>
<text x="459.25" y="235.7" font-size="7" text-anchor="middle" fill="#1a1a1a" stroke="#1a1a1a" stroke-width="0.12">72</text>
<text x="442.5" y="248" font-size="6.8" text-anchor="middle" fill="#1a1a1a" stroke="#1a1a1a" stroke-width="0.12">(hpi)</text>
<text x="395.5" y="196" font-size="6.8" text-anchor="middle" fill="#1a1a1a" stroke="#1a1a1a" stroke-width="0.12" transform="rotate(-90 395.5 196)" textLength="56" lengthAdjust="spacingAndGlyphs">TER119<tspan font-size="5" baseline-shift="2.8">+</tspan>CD45<tspan font-size="5" baseline-shift="2.8">-</tspan> cells</text>
<text x="404.5" y="197" font-size="6.8" text-anchor="middle" fill="#1a1a1a" stroke="#1a1a1a" stroke-width="0.12" transform="rotate(-90 404.5 197)" textLength="20" lengthAdjust="spacingAndGlyphs">(X10<tspan font-size="4.2" baseline-shift="2.4">7</tspan>)</text>
<path d="M424.25,213.5 L427.1666666666667,194.25 L430.0833333333333,199.75 L433.0,205.9375 L435.9166666666667,210.75 L441.75,191.5 L447.5833333333333,183.9375 L459.25,187.375" fill="none" stroke="#274684" stroke-width="1.0"/>
<line x1="424.25" y1="214.1875" x2="424.25" y2="212.8125" stroke="#274684" stroke-width="0.85"/>
<line x1="422.45" y1="214.1875" x2="426.05" y2="214.1875" stroke="#274684" stroke-width="0.85"/>
<line x1="422.45" y1="212.8125" x2="426.05" y2="212.8125" stroke="#274684" stroke-width="0.85"/>
<circle cx="424.25" cy="213.5" r="1.45" fill="#274684" stroke="none" stroke-width="1"/>
<line x1="427.1666666666667" y1="195.35" x2="427.1666666666667" y2="193.15" stroke="#274684" stroke-width="0.85"/>
<line x1="425.3666666666667" y1="195.35" x2="428.9666666666667" y2="195.35" stroke="#274684" stroke-width="0.85"/>
<line x1="425.3666666666667" y1="193.15" x2="428.9666666666667" y2="193.15" stroke="#274684" stroke-width="0.85"/>
<circle cx="427.1666666666667" cy="194.25" r="1.45" fill="#274684" stroke="none" stroke-width="1"/>
<line x1="430.0833333333333" y1="203.1875" x2="430.0833333333333" y2="196.3125" stroke="#274684" stroke-width="0.85"/>
<line x1="428.2833333333333" y1="203.1875" x2="431.8833333333333" y2="203.1875" stroke="#274684" stroke-width="0.85"/>
<line x1="428.2833333333333" y1="196.3125" x2="431.8833333333333" y2="196.3125" stroke="#274684" stroke-width="0.85"/>
<circle cx="430.0833333333333" cy="199.75" r="1.45" fill="#274684" stroke="none" stroke-width="1"/>
<line x1="433.0" y1="209.375" x2="433.0" y2="202.5" stroke="#274684" stroke-width="0.85"/>
<line x1="431.2" y1="209.375" x2="434.8" y2="209.375" stroke="#274684" stroke-width="0.85"/>
<line x1="431.2" y1="202.5" x2="434.8" y2="202.5" stroke="#274684" stroke-width="0.85"/>
<circle cx="433.0" cy="205.9375" r="1.45" fill="#274684" stroke="none" stroke-width="1"/>
<line x1="435.9166666666667" y1="216.9375" x2="435.9166666666667" y2="204.5625" stroke="#274684" stroke-width="0.85"/>
<line x1="434.1166666666667" y1="216.9375" x2="437.7166666666667" y2="216.9375" stroke="#274684" stroke-width="0.85"/>
<line x1="434.1166666666667" y1="204.5625" x2="437.7166666666667" y2="204.5625" stroke="#274684" stroke-width="0.85"/>
<circle cx="435.9166666666667" cy="210.75" r="1.45" fill="#274684" stroke="none" stroke-width="1"/>
<line x1="441.75" y1="194.25" x2="441.75" y2="188.75" stroke="#274684" stroke-width="0.85"/>
<line x1="439.95" y1="194.25" x2="443.55" y2="194.25" stroke="#274684" stroke-width="0.85"/>
<line x1="439.95" y1="188.75" x2="443.55" y2="188.75" stroke="#274684" stroke-width="0.85"/>
<circle cx="441.75" cy="191.5" r="1.45" fill="#274684" stroke="none" stroke-width="1"/>
<line x1="447.5833333333333" y1="188.0625" x2="447.5833333333333" y2="179.8125" stroke="#274684" stroke-width="0.85"/>
<line x1="445.7833333333333" y1="188.0625" x2="449.3833333333333" y2="188.0625" stroke="#274684" stroke-width="0.85"/>
<line x1="445.7833333333333" y1="179.8125" x2="449.3833333333333" y2="179.8125" stroke="#274684" stroke-width="0.85"/>
<circle cx="447.5833333333333" cy="183.9375" r="1.45" fill="#274684" stroke="none" stroke-width="1"/>
<line x1="459.25" y1="189.4375" x2="459.25" y2="185.3125" stroke="#274684" stroke-width="0.85"/>
<line x1="457.45" y1="189.4375" x2="461.05" y2="189.4375" stroke="#274684" stroke-width="0.85"/>
<line x1="457.45" y1="185.3125" x2="461.05" y2="185.3125" stroke="#274684" stroke-width="0.85"/>
<circle cx="459.25" cy="187.375" r="1.45" fill="#274684" stroke="none" stroke-width="1"/>
<path d="M435.2,184.0 L435.2,182.2 L441.2,182.2 L441.2,184.0" fill="none" stroke="#1a1a1a" stroke-width="1.1"/>
<circle cx="438.5" cy="179.3" r="0.8" fill="#1a1a1a"/>
<path d="M435.2,176.20000000000002 L435.2,174.4 L447.3,174.4 L447.3,176.20000000000002" fill="none" stroke="#1a1a1a" stroke-width="1.1"/>
<circle cx="441.5" cy="171.8" r="0.8" fill="#1a1a1a"/>
<path d="M435.2,170.70000000000002 L435.2,168.9 L459.7,168.9 L459.7,170.70000000000002" fill="none" stroke="#1a1a1a" stroke-width="1.1"/>
<circle cx="447.5" cy="165.8" r="0.8" fill="#1a1a1a"/>
<text x="7.5" y="270" font-size="12.2" text-anchor="start" fill="#000" font-weight="bold">F</text>
<text x="55.9" y="285" font-size="8.6" text-anchor="middle" fill="#1a1a1a" stroke="#1a1a1a" stroke-width="0.12" textLength="19" lengthAdjust="spacingAndGlyphs">CMP</text>
<line x1="41.25" y1="290" x2="41.25" y2="333.75" stroke="#111" stroke-width="1.2"/>
<line x1="38.95" y1="292.5" x2="41.25" y2="292.5" stroke="#111" stroke-width="1.08"/>
<text x="36.35" y="295.02" font-size="7" text-anchor="end" fill="#1a1a1a" stroke="#1a1a1a" stroke-width="0.12">10</text>
<line x1="38.95" y1="313.25" x2="41.25" y2="313.25" stroke="#111" stroke-width="1.08"/>
<text x="36.35" y="315.77" font-size="7" text-anchor="end" fill="#1a1a1a" stroke="#1a1a1a" stroke-width="0.12">5</text>
<line x1="38.95" y1="333.75" x2="41.25" y2="333.75" stroke="#111" stroke-width="1.08"/>
<text x="36.35" y="336.27" font-size="7" text-anchor="end" fill="#1a1a1a" stroke="#1a1a1a" stroke-width="0.12">0</text>
<line x1="41.25" y1="333.75" x2="68.8" y2="333.75" stroke="#000" stroke-width="1.25"/>
<rect x="46.25" y="329.5" width="7.5" height="4.25" fill="#274684" stroke="#1e3a6e" stroke-width="0.4"/>
<circle cx="48.5" cy="330.5" r="1.35" fill="#fff" stroke="#2a2a2a" stroke-width="0.65"/>
<circle cx="50.5" cy="329.5" r="1.35" fill="#fff" stroke="#2a2a2a" stroke-width="0.65"/>
<circle cx="52" cy="330.8" r="1.35" fill="#fff" stroke="#2a2a2a" stroke-width="0.65"/>
<rect x="57.5" y="303.75" width="8.0" height="30.0" fill="#a80a2c" stroke="#8c0622" stroke-width="0.4"/>
<line x1="61.5" y1="300" x2="61.5" y2="308" stroke="#111" stroke-width="0.8"/>
<line x1="60.0" y1="300" x2="63.0" y2="300" stroke="#111" stroke-width="0.8"/>
<circle cx="60.5" cy="300.5" r="1.35" fill="#fff" stroke="#2a2a2a" stroke-width="0.65"/>
<circle cx="62" cy="306" r="1.35" fill="#fff" stroke="#2a2a2a" stroke-width="0.65"/>
<circle cx="60.8" cy="310" r="1.35" fill="#fff" stroke="#2a2a2a" stroke-width="0.65"/>
<path d="M50.1,294.40000000000003 L50.1,292.6 L62.8,292.6 L62.8,294.40000000000003" fill="none" stroke="#1a1a1a" stroke-width="1.1"/>
<circle cx="56.4" cy="288.4" r="0.8" fill="#1a1a1a"/>
<text x="13.3" y="311.8" font-size="6.8" text-anchor="middle" fill="#1a1a1a" stroke="#1a1a1a" stroke-width="0.12" transform="rotate(-90 13.3 311.8)" textLength="21.2" lengthAdjust="spacingAndGlyphs">Relative</text>
<text x="22.2" y="311.3" font-size="6.9" text-anchor="middle" fill="#1a1a1a" stroke="#1a1a1a" stroke-width="0.12" transform="rotate(-90 22.2 311.3)" textLength="46" lengthAdjust="spacingAndGlyphs"><tspan font-style="italic">Gata1</tspan> expression</text>
<text x="52.8" y="339.9" font-size="7" text-anchor="end" fill="#1a1a1a" stroke="#1a1a1a" stroke-width="0.12" transform="rotate(-45 52.8 339.9)" textLength="18.0" lengthAdjust="spacingAndGlyphs">Naive</text>
<text x="64.7" y="339.1" font-size="7" text-anchor="end" fill="#1a1a1a" stroke="#1a1a1a" stroke-width="0.12" transform="rotate(-45 64.7 339.1)" textLength="24.1" lengthAdjust="spacingAndGlyphs">LPS 5 h</text>
<text x="75.5" y="270" font-size="12.2" text-anchor="start" fill="#000" font-weight="bold">G</text>
<line x1="115" y1="290" x2="115" y2="333.75" stroke="#111" stroke-width="1.2"/>
<line x1="112.7" y1="292.5" x2="115" y2="292.5" stroke="#111" stroke-width="1.08"/>
<text x="110.1" y="295.02" font-size="7" text-anchor="end" fill="#1a1a1a" stroke="#1a1a1a" stroke-width="0.12">12</text>
<line x1="112.7" y1="306.25" x2="115" y2="306.25" stroke="#111" stroke-width="1.08"/>
<text x="110.1" y="308.77" font-size="7" text-anchor="end" fill="#1a1a1a" stroke="#1a1a1a" stroke-width="0.12">8</text>
<line x1="112.7" y1="320" x2="115" y2="320" stroke="#111" stroke-width="1.08"/>
<text x="110.1" y="322.52" font-size="7" text-anchor="end" fill="#1a1a1a" stroke="#1a1a1a" stroke-width="0.12">4</text>
<line x1="112.7" y1="333.75" x2="115" y2="333.75" stroke="#111" stroke-width="1.08"/>
<text x="110.1" y="336.27" font-size="7" text-anchor="end" fill="#1a1a1a" stroke="#1a1a1a" stroke-width="0.12">0</text>
<line x1="115" y1="333.75" x2="141.2" y2="333.75" stroke="#000" stroke-width="1.25"/>
<rect x="118" y="322.5" width="7.5" height="11.25" fill="#274684" stroke="#1e3a6e" stroke-width="0.4"/>
<circle cx="120" cy="321" r="1.35" fill="#fff" stroke="#2a2a2a" stroke-width="0.65"/>
<circle cx="122" cy="320" r="1.35" fill="#fff" stroke="#2a2a2a" stroke-width="0.65"/>
<circle cx="123.5" cy="322.5" r="1.35" fill="#fff" stroke="#2a2a2a" stroke-width="0.65"/>
<rect x="129.5" y="303.25" width="8.0" height="30.5" fill="#a80a2c" stroke="#8c0622" stroke-width="0.4"/>
<line x1="133.5" y1="300.5" x2="133.5" y2="306" stroke="#111" stroke-width="0.8"/>
<line x1="132.0" y1="300.5" x2="135.0" y2="300.5" stroke="#111" stroke-width="0.8"/>
<circle cx="133" cy="299" r="1.35" fill="#fff" stroke="#2a2a2a" stroke-width="0.65"/>
<circle cx="134.5" cy="305" r="1.35" fill="#fff" stroke="#2a2a2a" stroke-width="0.65"/>
<circle cx="131.8" cy="307" r="1.35" fill="#fff" stroke="#2a2a2a" stroke-width="0.65"/>
<path d="M120.3,292.5 L120.3,290.7 L132.9,290.7 L132.9,292.5" fill="none" stroke="#1a1a1a" stroke-width="1.1"/>
<circle cx="126.8" cy="286.3" r="0.8" fill="#1a1a1a"/>
<text x="85.6" y="312.7" font-size="7.1" text-anchor="middle" fill="#1a1a1a" stroke="#1a1a1a" stroke-width="0.12" transform="rotate(-90 85.6 312.7)" textLength="57.3" lengthAdjust="spacingAndGlyphs">TER119<tspan font-size="5" baseline-shift="2.8">+</tspan> cell number</text>
<text x="94" y="310.7" font-size="7.1" text-anchor="middle" fill="#1a1a1a" stroke="#1a1a1a" stroke-width="0.12" transform="rotate(-90 94 310.7)" textLength="64.2" lengthAdjust="spacingAndGlyphs">from single CMP (x10<tspan font-size="4.6" baseline-shift="2.6">2</tspan>)</text>
<text x="125.3" y="339.9" font-size="7" text-anchor="end" fill="#1a1a1a" stroke="#1a1a1a" stroke-width="0.12" transform="rotate(-45 125.3 339.9)" textLength="18.0" lengthAdjust="spacingAndGlyphs">Naive</text>
<text x="137.7" y="339.1" font-size="7" text-anchor="end" fill="#1a1a1a" stroke="#1a1a1a" stroke-width="0.12" transform="rotate(-45 137.7 339.1)" textLength="24.1" lengthAdjust="spacingAndGlyphs">LPS 5 h</text>
<text x="147.5" y="270" font-size="12.2" text-anchor="start" fill="#000" font-weight="bold">H</text>
<text x="192.5" y="285" font-size="8.6" text-anchor="middle" fill="#1a1a1a" stroke="#1a1a1a" stroke-width="0.12" textLength="18" lengthAdjust="spacingAndGlyphs">CMP</text>
<line x1="178.75" y1="290" x2="178.75" y2="333.75" stroke="#111" stroke-width="1.2"/>
<line x1="176.45" y1="292.5" x2="178.75" y2="292.5" stroke="#111" stroke-width="1.08"/>
<text x="173.85" y="295.02" font-size="7" text-anchor="end" fill="#1a1a1a" stroke="#1a1a1a" stroke-width="0.12">3</text>
<line x1="176.45" y1="306.25" x2="178.75" y2="306.25" stroke="#111" stroke-width="1.08"/>
<text x="173.85" y="308.77" font-size="7" text-anchor="end" fill="#1a1a1a" stroke="#1a1a1a" stroke-width="0.12">2</text>
<line x1="176.45" y1="320" x2="178.75" y2="320" stroke="#111" stroke-width="1.08"/>
<text x="173.85" y="322.52" font-size="7" text-anchor="end" fill="#1a1a1a" stroke="#1a1a1a" stroke-width="0.12">1</text>
<line x1="176.45" y1="333.75" x2="178.75" y2="333.75" stroke="#111" stroke-width="1.08"/>
<text x="173.85" y="336.27" font-size="7" text-anchor="end" fill="#1a1a1a" stroke="#1a1a1a" stroke-width="0.12">0</text>
<line x1="178.75" y1="333.75" x2="206.2" y2="333.75" stroke="#000" stroke-width="1.25"/>
<rect x="183" y="320.5" width="7.5" height="13.25" fill="#274684" stroke="#1e3a6e" stroke-width="0.4"/>
<circle cx="185.5" cy="320.8" r="1.35" fill="#fff" stroke="#2a2a2a" stroke-width="0.65"/>
<circle cx="188" cy="320.8" r="1.35" fill="#fff" stroke="#2a2a2a" stroke-width="0.65"/>
<rect x="194.5" y="307" width="7.5" height="26.75" fill="#a80a2c" stroke="#8c0622" stroke-width="0.4"/>
<line x1="198.25" y1="304" x2="198.25" y2="310" stroke="#111" stroke-width="0.8"/>
<line x1="196.75" y1="304" x2="199.75" y2="304" stroke="#111" stroke-width="0.8"/>
<circle cx="197.5" cy="304" r="1.35" fill="#fff" stroke="#2a2a2a" stroke-width="0.65"/>
<circle cx="199.5" cy="308.5" r="1.35" fill="#fff" stroke="#2a2a2a" stroke-width="0.65"/>
<circle cx="197.2" cy="311" r="1.35" fill="#fff" stroke="#2a2a2a" stroke-width="0.65"/>
<path d="M186.3,298.6 L186.3,296.8 L198.75,296.8 L198.75,298.6" fill="none" stroke="#1a1a1a" stroke-width="1.1"/>
<circle cx="192.8" cy="292.4" r="0.8" fill="#1a1a1a"/>
<text x="154.8" y="311.8" font-size="6.9" text-anchor="middle" fill="#1a1a1a" stroke="#1a1a1a" stroke-width="0.12" transform="rotate(-90 154.8 311.8)" textLength="21.2" lengthAdjust="spacingAndGlyphs">Relative</text>
<text x="163.7" y="311.3" font-size="6.9" text-anchor="middle" fill="#1a1a1a" stroke="#1a1a1a" stroke-width="0.12" transform="rotate(-90 163.7 311.3)" textLength="46" lengthAdjust="spacingAndGlyphs"><tspan font-style="italic">Gata1</tspan> expression</text>
<text x="190" y="340" font-size="6.8" text-anchor="end" fill="#1a1a1a" stroke="#1a1a1a" stroke-width="0.12" transform="rotate(-45 190 340)" textLength="3" lengthAdjust="spacingAndGlyphs">-</text>
<text x="202" y="340" font-size="7" text-anchor="end" fill="#1a1a1a" stroke="#1a1a1a" stroke-width="0.12" transform="rotate(-45 202 340)" textLength="12.5" lengthAdjust="spacingAndGlyphs">LPS</text>
<text x="216" y="270" font-size="12.2" text-anchor="start" fill="#000" font-weight="bold">I</text>
<line x1="254.5" y1="277" x2="254.5" y2="333.25" stroke="#111" stroke-width="1.2"/>
<line x1="252.2" y1="279.5" x2="254.5" y2="279.5" stroke="#111" stroke-width="1.08"/>
<text x="249.6" y="282.02" font-size="7" text-anchor="end" fill="#1a1a1a" stroke="#1a1a1a" stroke-width="0.12">100</text>
<line x1="252.2" y1="290.2" x2="254.5" y2="290.2" stroke="#111" stroke-width="1.08"/>
<text x="249.6" y="292.71999999999997" font-size="7" text-anchor="end" fill="#1a1a1a" stroke="#1a1a1a" stroke-width="0.12">80</text>
<line x1="252.2" y1="301" x2="254.5" y2="301" stroke="#111" stroke-width="1.08"/>
<text x="249.6" y="303.52" font-size="7" text-anchor="end" fill="#1a1a1a" stroke="#1a1a1a" stroke-width="0.12">60</text>
<line x1="252.2" y1="311.75" x2="254.5" y2="311.75" stroke="#111" stroke-width="1.08"/>
<text x="249.6" y="314.27" font-size="7" text-anchor="end" fill="#1a1a1a" stroke="#1a1a1a" stroke-width="0.12">40</text>
<line x1="252.2" y1="322.5" x2="254.5" y2="322.5" stroke="#111" stroke-width="1.08"/>
<text x="249.6" y="325.02" font-size="7" text-anchor="end" fill="#1a1a1a" stroke="#1a1a1a" stroke-width="0.12">20</text>
<line x1="252.2" y1="333.25" x2="254.5" y2="333.25" stroke="#111" stroke-width="1.08"/>
<text x="249.6" y="335.77" font-size="7" text-anchor="end" fill="#1a1a1a" stroke="#1a1a1a" stroke-width="0.12">0</text>
<line x1="254.5" y1="333.25" x2="289.5" y2="333.25" stroke="#111" stroke-width="1.2"/>
<line x1="254.5" y1="333.25" x2="254.5" y2="335.55" stroke="#111" stroke-width="1.08"/>
<text x="254.5" y="346.05" font-size="7" text-anchor="middle" fill="#1a1a1a" stroke="#1a1a1a" stroke-width="0.12">0</text>
<line x1="272" y1="333.25" x2="272" y2="335.55" stroke="#111" stroke-width="1.08"/>
<text x="272" y="346.05" font-size="7" text-anchor="middle" fill="#1a1a1a" stroke="#1a1a1a" stroke-width="0.12">12</text>
<line x1="289.5" y1="333.25" x2="289.5" y2="335.55" stroke="#111" stroke-width="1.08"/>
<text x="289.5" y="346.05" font-size="7" text-anchor="middle" fill="#1a1a1a" stroke="#1a1a1a" stroke-width="0.12">24</text>
<text x="272.3" y="357" font-size="6.8" text-anchor="middle" fill="#1a1a1a" stroke="#1a1a1a" stroke-width="0.12">(hpi)</text>
<text x="223" y="305.4" font-size="7.1" text-anchor="middle" fill="#1a1a1a" stroke="#1a1a1a" stroke-width="0.12" transform="rotate(-90 223 305.4)" textLength="32.7" lengthAdjust="spacingAndGlyphs">Mature RBC</text>
<text x="231.2" y="303.5" font-size="7.1" text-anchor="middle" fill="#1a1a1a" stroke="#1a1a1a" stroke-width="0.12" transform="rotate(-90 231.2 303.5)" textLength="56.9" lengthAdjust="spacingAndGlyphs">(% in TER119<tspan font-size="5" baseline-shift="2.8">+</tspan> cells)</text>
<path d="M254.5,318.7375 L263.25,309.0625 L272.0,305.3 L280.75,302.6125 L289.5,299.3875" fill="none" stroke="#274684" stroke-width="1.0"/>
<line x1="254.5" y1="319.00625" x2="254.5" y2="318.46875" stroke="#274684" stroke-width="0.85"/>
<line x1="252.7" y1="319.00625" x2="256.3" y2="319.00625" stroke="#274684" stroke-width="0.85"/>
<line x1="252.7" y1="318.46875" x2="256.3" y2="318.46875" stroke="#274684" stroke-width="0.85"/>
<circle cx="254.5" cy="318.7375" r="1.45" fill="#274684" stroke="none" stroke-width="1"/>
<line x1="263.25" y1="310.1375" x2="263.25" y2="307.9875" stroke="#274684" stroke-width="0.85"/>
<line x1="261.45" y1="310.1375" x2="265.05" y2="310.1375" stroke="#274684" stroke-width="0.85"/>
<line x1="261.45" y1="307.9875" x2="265.05" y2="307.9875" stroke="#274684" stroke-width="0.85"/>
<circle cx="263.25" cy="309.0625" r="1.45" fill="#274684" stroke="none" stroke-width="1"/>
<line x1="272.0" y1="305.8375" x2="272.0" y2="304.7625" stroke="#274684" stroke-width="0.85"/>
<line x1="270.2" y1="305.8375" x2="273.8" y2="305.8375" stroke="#274684" stroke-width="0.85"/>
<line x1="270.2" y1="304.7625" x2="273.8" y2="304.7625" stroke="#274684" stroke-width="0.85"/>
<circle cx="272.0" cy="305.3" r="1.45" fill="#274684" stroke="none" stroke-width="1"/>
<line x1="280.75" y1="303.15" x2="280.75" y2="302.075" stroke="#274684" stroke-width="0.85"/>
<line x1="278.95" y1="303.15" x2="282.55" y2="303.15" stroke="#274684" stroke-width="0.85"/>
<line x1="278.95" y1="302.075" x2="282.55" y2="302.075" stroke="#274684" stroke-width="0.85"/>
<circle cx="280.75" cy="302.6125" r="1.45" fill="#274684" stroke="none" stroke-width="1"/>
<line x1="289.5" y1="299.925" x2="289.5" y2="298.85" stroke="#274684" stroke-width="0.85"/>
<line x1="287.7" y1="299.925" x2="291.3" y2="299.925" stroke="#274684" stroke-width="0.85"/>
<line x1="287.7" y1="298.85" x2="291.3" y2="298.85" stroke="#274684" stroke-width="0.85"/>
<circle cx="289.5" cy="299.3875" r="1.45" fill="#274684" stroke="none" stroke-width="1"/>
<text x="303.5" y="270" font-size="12.2" text-anchor="start" fill="#000" font-weight="bold">J</text>
<line x1="334.5" y1="290" x2="334.5" y2="333.25" stroke="#111" stroke-width="1.2"/>
<line x1="332.2" y1="292.5" x2="334.5" y2="292.5" stroke="#111" stroke-width="1.08"/>
<text x="329.6" y="295.02" font-size="7" text-anchor="end" fill="#1a1a1a" stroke="#1a1a1a" stroke-width="0.12">0.15</text>
<line x1="332.2" y1="306.25" x2="334.5" y2="306.25" stroke="#111" stroke-width="1.08"/>
<text x="329.6" y="308.77" font-size="7" text-anchor="end" fill="#1a1a1a" stroke="#1a1a1a" stroke-width="0.12">0.10</text>
<line x1="332.2" y1="320" x2="334.5" y2="320" stroke="#111" stroke-width="1.08"/>
<text x="329.6" y="322.52" font-size="7" text-anchor="end" fill="#1a1a1a" stroke="#1a1a1a" stroke-width="0.12">0.05</text>
<line x1="332.2" y1="333.25" x2="334.5" y2="333.25" stroke="#111" stroke-width="1.08"/>
<text x="329.6" y="335.77" font-size="7" text-anchor="end" fill="#1a1a1a" stroke="#1a1a1a" stroke-width="0.12">0.00</text>
<line x1="334.5" y1="333.25" x2="361.25" y2="333.25" stroke="#000" stroke-width="1.25"/>
<rect x="338.25" y="304.5" width="7.5" height="28.75" fill="#274684" stroke="#1e3a6e" stroke-width="0.4"/>
<circle cx="340" cy="303" r="1.35" fill="#fff" stroke="#2a2a2a" stroke-width="0.65"/>
<circle cx="342" cy="305.5" r="1.35" fill="#fff" stroke="#2a2a2a" stroke-width="0.65"/>
<circle cx="343.5" cy="307" r="1.35" fill="#fff" stroke="#2a2a2a" stroke-width="0.65"/>
<circle cx="341" cy="308" r="1.35" fill="#fff" stroke="#2a2a2a" stroke-width="0.65"/>
<rect x="349.5" y="301.25" width="8.0" height="32.0" fill="#a80a2c" stroke="#8c0622" stroke-width="0.4"/>
<circle cx="351" cy="300" r="1.35" fill="#fff" stroke="#2a2a2a" stroke-width="0.65"/>
<circle cx="353" cy="299" r="1.35" fill="#fff" stroke="#2a2a2a" stroke-width="0.65"/>
<circle cx="355" cy="301" r="1.35" fill="#fff" stroke="#2a2a2a" stroke-width="0.65"/>
<circle cx="352.5" cy="303.5" r="1.35" fill="#fff" stroke="#2a2a2a" stroke-width="0.65"/>
<circle cx="354.5" cy="304.5" r="1.35" fill="#fff" stroke="#2a2a2a" stroke-width="0.65"/>
<path d="M341.1,296.6 L341.1,294.8 L353.75,294.8 L353.75,296.6" fill="none" stroke="#1a1a1a" stroke-width="1.1"/>
<circle cx="347.4" cy="290.5" r="0.8" fill="#1a1a1a"/>
<text x="311" y="311" font-size="6.8" text-anchor="middle" fill="#1a1a1a" stroke="#1a1a1a" stroke-width="0.12" transform="rotate(-90 311 311)" textLength="20" lengthAdjust="spacingAndGlyphs">OD560</text>
<text x="345.3" y="339.9" font-size="7" text-anchor="end" fill="#1a1a1a" stroke="#1a1a1a" stroke-width="0.12" transform="rotate(-45 345.3 339.9)" textLength="18.0" lengthAdjust="spacingAndGlyphs">Naive</text>
<text x="357.7" y="339.6" font-size="7" text-anchor="end" fill="#1a1a1a" stroke="#1a1a1a" stroke-width="0.12" transform="rotate(-45 357.7 339.6)" textLength="26.4" lengthAdjust="spacingAndGlyphs">LPS 18 h</text>
<text x="371.5" y="269.5" font-size="12.2" text-anchor="start" fill="#000" font-weight="bold">K</text>
<text x="421.5" y="285.2" font-size="8.6" text-anchor="middle" fill="#1a1a1a" stroke="#1a1a1a" stroke-width="0.12" textLength="22.5" lengthAdjust="spacingAndGlyphs">Naive</text>
<text x="489" y="285.2" font-size="8.6" text-anchor="middle" fill="#1a1a1a" stroke="#1a1a1a" stroke-width="0.12" textLength="32" lengthAdjust="spacingAndGlyphs">LPS 18h</text>
<rect x="400.2" y="288.2" width="45.30000000000001" height="44.7" fill="none" stroke="#9a9a9a" stroke-width="0.8"/>
<text x="431.5" y="327.4" font-size="8.6" text-anchor="middle" fill="#1a1a1a" stroke="#1a1a1a" stroke-width="0.12">35</text>
<text x="393.4" y="294.9" font-size="7" text-anchor="end" fill="#1a1a1a" stroke="#1a1a1a" stroke-width="0.12">10<tspan font-size="4.8" baseline-shift="2.8">5</tspan></text>
<text x="393.4" y="305.8" font-size="7" text-anchor="end" fill="#1a1a1a" stroke="#1a1a1a" stroke-width="0.12">10<tspan font-size="4.8" baseline-shift="2.8">4</tspan></text>
<text x="393.4" y="317.7" font-size="7" text-anchor="end" fill="#1a1a1a" stroke="#1a1a1a" stroke-width="0.12">10<tspan font-size="4.8" baseline-shift="2.8">3</tspan></text>
<text x="393.09999999999997" y="325.4" font-size="7" text-anchor="end" fill="#1a1a1a" stroke="#1a1a1a" stroke-width="0.12">0</text>
<text x="393.4" y="332.8" font-size="7" text-anchor="end" fill="#1a1a1a" stroke="#1a1a1a" stroke-width="0.12">-10<tspan font-size="4.8" baseline-shift="2.8">3</tspan></text>
<text x="402.59999999999997" y="345.8" font-size="7" text-anchor="middle" fill="#1a1a1a" stroke="#1a1a1a" stroke-width="0.12" textLength="11" lengthAdjust="spacingAndGlyphs">-10<tspan font-size="4.8" baseline-shift="2.8">3</tspan></text>
<text x="410.5" y="345.8" font-size="7" text-anchor="middle" fill="#1a1a1a" stroke="#1a1a1a" stroke-width="0.12" textLength="3.6" lengthAdjust="spacingAndGlyphs">0</text>
<text x="417.7" y="345.8" font-size="7" text-anchor="middle" fill="#1a1a1a" stroke="#1a1a1a" stroke-width="0.12" textLength="10" lengthAdjust="spacingAndGlyphs">10<tspan font-size="4.8" baseline-shift="2.8">3</tspan></text>
<text x="430.4" y="345.8" font-size="7" text-anchor="middle" fill="#1a1a1a" stroke="#1a1a1a" stroke-width="0.12" textLength="10" lengthAdjust="spacingAndGlyphs">10<tspan font-size="4.8" baseline-shift="2.8">4</tspan></text>
<text x="441.3" y="345.8" font-size="7" text-anchor="middle" fill="#1a1a1a" stroke="#1a1a1a" stroke-width="0.12" textLength="10" lengthAdjust="spacingAndGlyphs">10<tspan font-size="4.8" baseline-shift="2.8">5</tspan></text>
<rect x="467" y="288.2" width="44.60000000000002" height="44.7" fill="none" stroke="#9a9a9a" stroke-width="0.8"/>
<text x="497.5" y="327.4" font-size="8.6" text-anchor="middle" fill="#1a1a1a" stroke="#1a1a1a" stroke-width="0.12">25</text>
<text x="460.2" y="294.9" font-size="7" text-anchor="end" fill="#1a1a1a" stroke="#1a1a1a" stroke-width="0.12">10<tspan font-size="4.8" baseline-shift="2.8">5</tspan></text>
<text x="460.2" y="305.8" font-size="7" text-anchor="end" fill="#1a1a1a" stroke="#1a1a1a" stroke-width="0.12">10<tspan font-size="4.8" baseline-shift="2.8">4</tspan></text>
<text x="460.2" y="317.7" font-size="7" text-anchor="end" fill="#1a1a1a" stroke="#1a1a1a" stroke-width="0.12">10<tspan font-size="4.8" baseline-shift="2.8">3</tspan></text>
<text x="459.9" y="325.4" font-size="7" text-anchor="end" fill="#1a1a1a" stroke="#1a1a1a" stroke-width="0.12">0</text>
<text x="460.2" y="332.8" font-size="7" text-anchor="end" fill="#1a1a1a" stroke="#1a1a1a" stroke-width="0.12">-10<tspan font-size="4.8" baseline-shift="2.8">3</tspan></text>
<text x="469.4" y="345.8" font-size="7" text-anchor="middle" fill="#1a1a1a" stroke="#1a1a1a" stroke-width="0.12" textLength="11" lengthAdjust="spacingAndGlyphs">-10<tspan font-size="4.8" baseline-shift="2.8">3</tspan></text>
<text x="477.3" y="345.8" font-size="7" text-anchor="middle" fill="#1a1a1a" stroke="#1a1a1a" stroke-width="0.12" textLength="3.6" lengthAdjust="spacingAndGlyphs">0</text>
<text x="484.5" y="345.8" font-size="7" text-anchor="middle" fill="#1a1a1a" stroke="#1a1a1a" stroke-width="0.12" textLength="10" lengthAdjust="spacingAndGlyphs">10<tspan font-size="4.8" baseline-shift="2.8">3</tspan></text>
<text x="497.2" y="345.8" font-size="7" text-anchor="middle" fill="#1a1a1a" stroke="#1a1a1a" stroke-width="0.12" textLength="10" lengthAdjust="spacingAndGlyphs">10<tspan font-size="4.8" baseline-shift="2.8">4</tspan></text>
<text x="508.1" y="345.8" font-size="7" text-anchor="middle" fill="#1a1a1a" stroke="#1a1a1a" stroke-width="0.12" textLength="10" lengthAdjust="spacingAndGlyphs">10<tspan font-size="4.8" baseline-shift="2.8">5</tspan></text>
<g transform="translate(0 0)">
<g fill="#9a9a9a">
<circle cx="418.8" cy="307.2" r="0.32"/>
<circle cx="407.6" cy="306.3" r="0.32"/>
<circle cx="409.4" cy="307.1" r="0.32"/>
<circle cx="419.8" cy="302.5" r="0.32"/>
<circle cx="419.1" cy="300.6" r="0.32"/>
<circle cx="408.5" cy="299.3" r="0.32"/>
<circle cx="414.7" cy="305.2" r="0.32"/>
<circle cx="411.7" cy="305.3" r="0.32"/>
<circle cx="414.2" cy="307.8" r="0.32"/>
<circle cx="428.7" cy="300.4" r="0.32"/>
<circle cx="420.3" cy="302.0" r="0.32"/>
<circle cx="412.4" cy="307.9" r="0.32"/>
<circle cx="421.5" cy="299.7" r="0.32"/>
<circle cx="419.3" cy="300.6" r="0.32"/>
<circle cx="425.7" cy="294.6" r="0.32"/>
<circle cx="415.2" cy="298.9" r="0.32"/>
<circle cx="422.9" cy="306.5" r="0.32"/>
<circle cx="406.9" cy="309.0" r="0.32"/>
<circle cx="411.4" cy="305.9" r="0.32"/>
<circle cx="424.1" cy="294.5" r="0.32"/>
<circle cx="426.3" cy="300.3" r="0.32"/>
<circle cx="419.0" cy="298.0" r="0.32"/>
<circle cx="430.9" cy="295.0" r="0.32"/>
<circle cx="428.2" cy="300.6" r="0.32"/>
<circle cx="429.2" cy="298.7" r="0.32"/>
<circle cx="411.7" cy="307.1" r="0.32"/>
<circle cx="407.6" cy="308.1" r="0.32"/>
<circle cx="416.7" cy="308.3" r="0.32"/>
<circle cx="411.9" cy="309.4" r="0.32"/>
<circle cx="431.2" cy="297.5" r="0.32"/>
<circle cx="425.5" cy="296.3" r="0.32"/>
<circle cx="427.4" cy="299.2" r="0.32"/>
<circle cx="422.9" cy="297.6" r="0.32"/>
<circle cx="413.4" cy="308.0" r="0.32"/>
<circle cx="409.9" cy="305.1" r="0.32"/>
<circle cx="418.1" cy="304.4" r="0.32"/>
<circle cx="409.9" cy="299.6" r="0.32"/>
<circle cx="419.8" cy="297.9" r="0.32"/>
<circle cx="430.3" cy="300.8" r="0.32"/>
<circle cx="430.2" cy="293.0" r="0.32"/>
<circle cx="416.4" cy="303.4" r="0.32"/>
<circle cx="424.1" cy="299.6" r="0.32"/>
<circle cx="415.1" cy="307.6" r="0.32"/>
<circle cx="412.0" cy="307.3" r="0.32"/>
<circle cx="410.8" cy="307.1" r="0.32"/>
<circle cx="426.9" cy="294.6" r="0.32"/>
<circle cx="412.8" cy="307.0" r="0.32"/>
<circle cx="417.6" cy="298.1" r="0.32"/>
<circle cx="417.9" cy="301.6" r="0.32"/>
<circle cx="409.9" cy="308.7" r="0.32"/>
<circle cx="427.6" cy="297.0" r="0.32"/>
<circle cx="428.1" cy="294.4" r="0.32"/>
<circle cx="424.8" cy="301.1" r="0.32"/>
<circle cx="433.8" cy="290.6" r="0.32"/>
<circle cx="413.4" cy="305.8" r="0.32"/>
<circle cx="420.5" cy="296.1" r="0.32"/>
<circle cx="417.2" cy="309.1" r="0.32"/>
<circle cx="434.2" cy="289.6" r="0.32"/>
<circle cx="426.9" cy="294.3" r="0.32"/>
<circle cx="419.9" cy="301.4" r="0.32"/>
<circle cx="409.2" cy="310.0" r="0.32"/>
<circle cx="427.6" cy="297.4" r="0.32"/>
<circle cx="437.6" cy="294.3" r="0.32"/>
<circle cx="417.4" cy="305.2" r="0.32"/>
<circle cx="414.6" cy="309.5" r="0.32"/>
<circle cx="430.8" cy="292.3" r="0.32"/>
<circle cx="423.8" cy="297.6" r="0.32"/>
<circle cx="428.2" cy="295.8" r="0.32"/>
<circle cx="423.5" cy="297.8" r="0.32"/>
<circle cx="423.5" cy="301.9" r="0.32"/>
<circle cx="427.8" cy="296.4" r="0.32"/>
<circle cx="429.5" cy="292.8" r="0.32"/>
<circle cx="415.8" cy="311.9" r="0.32"/>
<circle cx="430.4" cy="301.5" r="0.32"/>
<circle cx="428.9" cy="291.8" r="0.32"/>
<circle cx="421.4" cy="300.7" r="0.32"/>
<circle cx="428.1" cy="291.2" r="0.32"/>
<circle cx="423.6" cy="297.5" r="0.32"/>
<circle cx="427.8" cy="298.8" r="0.32"/>
<circle cx="415.7" cy="308.1" r="0.32"/>
<circle cx="413.2" cy="305.2" r="0.32"/>
<circle cx="426.9" cy="298.1" r="0.32"/>
<circle cx="424.6" cy="297.9" r="0.32"/>
<circle cx="425.2" cy="295.1" r="0.32"/>
<circle cx="423.9" cy="301.1" r="0.32"/>
<circle cx="418.8" cy="305.6" r="0.32"/>
<circle cx="407.7" cy="306.4" r="0.32"/>
<circle cx="419.5" cy="303.6" r="0.32"/>
<circle cx="421.5" cy="298.7" r="0.32"/>
<circle cx="421.4" cy="302.7" r="0.32"/>
<circle cx="421.9" cy="297.0" r="0.32"/>
<circle cx="428.7" cy="295.6" r="0.32"/>
<circle cx="418.6" cy="299.3" r="0.32"/>
<circle cx="420.5" cy="299.5" r="0.32"/>
<circle cx="424.1" cy="299.5" r="0.32"/>
<circle cx="430.6" cy="294.8" r="0.32"/>
<circle cx="427.1" cy="298.0" r="0.32"/>
<circle cx="414.5" cy="308.5" r="0.32"/>
<circle cx="410.7" cy="308.2" r="0.32"/>
<circle cx="425.2" cy="292.0" r="0.32"/>
<circle cx="411.4" cy="301.2" r="0.32"/>
<circle cx="418.4" cy="300.4" r="0.32"/>
<circle cx="416.9" cy="304.0" r="0.32"/>
<circle cx="425.8" cy="300.8" r="0.32"/>
<circle cx="409.1" cy="307.3" r="0.32"/>
<circle cx="417.4" cy="305.9" r="0.32"/>
<circle cx="428.9" cy="298.4" r="0.32"/>
<circle cx="421.5" cy="302.2" r="0.32"/>
<circle cx="421.6" cy="299.2" r="0.32"/>
<circle cx="411.2" cy="307.4" r="0.32"/>
<circle cx="425.9" cy="298.8" r="0.32"/>
<circle cx="423.3" cy="299.0" r="0.32"/>
<circle cx="418.9" cy="310.2" r="0.32"/>
<circle cx="421.1" cy="298.7" r="0.32"/>
<circle cx="409.0" cy="304.1" r="0.32"/>
<circle cx="414.8" cy="305.3" r="0.32"/>
<circle cx="432.1" cy="299.9" r="0.32"/>
<circle cx="412.8" cy="304.4" r="0.32"/>
<circle cx="409.5" cy="300.9" r="0.32"/>
<circle cx="417.6" cy="307.1" r="0.32"/>
<circle cx="415.7" cy="305.9" r="0.32"/>
<circle cx="410.9" cy="309.9" r="0.32"/>
<circle cx="415.9" cy="301.1" r="0.32"/>
<circle cx="421.3" cy="303.7" r="0.32"/>
<circle cx="409.4" cy="308.3" r="0.32"/>
<circle cx="423.2" cy="297.1" r="0.32"/>
<circle cx="420.8" cy="300.7" r="0.32"/>
<circle cx="423.6" cy="298.1" r="0.32"/>
<circle cx="424.4" cy="298.7" r="0.32"/>
<circle cx="427.0" cy="298.0" r="0.32"/>
<circle cx="426.1" cy="292.0" r="0.32"/>
<circle cx="417.3" cy="303.2" r="0.32"/>
<circle cx="416.6" cy="308.4" r="0.32"/>
<circle cx="415.3" cy="305.6" r="0.32"/>
<circle cx="430.8" cy="292.8" r="0.32"/>
<circle cx="415.3" cy="306.7" r="0.32"/>
<circle cx="421.0" cy="304.5" r="0.32"/>
<circle cx="423.1" cy="302.3" r="0.32"/>
<circle cx="421.3" cy="308.6" r="0.32"/>
<circle cx="416.8" cy="301.3" r="0.3"/>
<circle cx="405.0" cy="302.1" r="0.3"/>
<circle cx="423.0" cy="305.6" r="0.3"/>
<circle cx="412.6" cy="305.6" r="0.3"/>
<circle cx="405.2" cy="298.7" r="0.3"/>
<circle cx="408.4" cy="302.6" r="0.3"/>
<circle cx="406.6" cy="291.7" r="0.3"/>
<circle cx="416.6" cy="297.8" r="0.3"/>
<circle cx="427.3" cy="306.3" r="0.3"/>
<circle cx="433.5" cy="310.1" r="0.3"/>
<circle cx="432.2" cy="316.5" r="0.3"/>
<circle cx="419.8" cy="300.5" r="0.3"/>
<circle cx="442.4" cy="295.3" r="0.3"/>
<circle cx="432.5" cy="309.7" r="0.3"/>
<circle cx="406.7" cy="315.2" r="0.3"/>
<circle cx="438.9" cy="309.2" r="0.3"/>
<circle cx="432.9" cy="314.6" r="0.3"/>
<circle cx="410.3" cy="306.2" r="0.3"/>
<circle cx="424.2" cy="315.2" r="0.3"/>
<circle cx="435.6" cy="315.0" r="0.3"/>
<circle cx="427.2" cy="316.9" r="0.3"/>
<circle cx="431.0" cy="311.1" r="0.3"/>
<circle cx="413.7" cy="291.9" r="0.3"/>
<circle cx="410.1" cy="301.5" r="0.3"/>
<circle cx="409.0" cy="315.2" r="0.3"/>
<circle cx="426.2" cy="309.2" r="0.3"/>
<circle cx="428.8" cy="310.7" r="0.3"/>
<circle cx="423.6" cy="291.1" r="0.3"/>
<circle cx="435.3" cy="312.7" r="0.3"/>
<circle cx="424.1" cy="306.5" r="0.3"/>
</g>
<path d="M408.5,315.5 C405.8,313.5 405.5,304 406.5,299.5 C408,296 412,295.5 417,295 C422,294.3 427,292.8 430,293.5 C430.3,295.8 426,298 421.5,300.5 C416.5,303.5 413.5,307.5 412.2,312.5 C411.6,315 410,316.2 408.5,315.5 Z" fill="#cfcfcf" stroke="#8f8f8f" stroke-width="0.45" fill-opacity="0.6"/>
<path d="M409,312.5 C407.2,310.5 407,304 408,301 C409.5,298 413,297.5 417.5,297 C422,296.5 425.5,295.3 427.5,295.7 C426.5,297.5 422.5,299.5 419,301.8 C415,304.5 412.8,308 411.5,311 C411,312.5 410,313.1 409,312.5 Z" fill="#d8d8d8" stroke="#8f8f8f" stroke-width="0.45" fill-opacity="0.6"/>
<path d="M409.6,309.5 C408.6,307.5 408.7,304 409.6,302.3 C411,300 414.5,299.4 418,299 C421,298.6 423.5,298 424.5,298.2 C423,299.6 420,301.2 417,303.2 C414,305.3 412.3,307.4 411.3,309.2 C410.8,310 410.2,310.1 409.6,309.5 Z" fill="#eeeeee" stroke="#999" stroke-width="0.45" fill-opacity="0.6"/>
</g>
<g transform="translate(67.2 0)">
<g fill="#9a9a9a">
<circle cx="428.3" cy="300.9" r="0.32"/>
<circle cx="416.8" cy="305.6" r="0.32"/>
<circle cx="426.5" cy="302.8" r="0.32"/>
<circle cx="427.3" cy="294.5" r="0.32"/>
<circle cx="417.3" cy="296.3" r="0.32"/>
<circle cx="421.8" cy="298.4" r="0.32"/>
<circle cx="412.1" cy="311.2" r="0.32"/>
<circle cx="415.2" cy="303.5" r="0.32"/>
<circle cx="409.8" cy="311.9" r="0.32"/>
<circle cx="423.0" cy="295.9" r="0.32"/>
<circle cx="416.9" cy="301.6" r="0.32"/>
<circle cx="413.3" cy="305.0" r="0.32"/>
<circle cx="431.1" cy="294.1" r="0.32"/>
<circle cx="422.7" cy="294.0" r="0.32"/>
<circle cx="418.6" cy="303.9" r="0.32"/>
<circle cx="430.8" cy="298.9" r="0.32"/>
<circle cx="404.3" cy="304.8" r="0.32"/>
<circle cx="413.5" cy="302.7" r="0.32"/>
<circle cx="427.8" cy="293.4" r="0.32"/>
<circle cx="428.0" cy="295.5" r="0.32"/>
<circle cx="405.6" cy="308.1" r="0.32"/>
<circle cx="417.5" cy="306.0" r="0.32"/>
<circle cx="416.1" cy="303.4" r="0.32"/>
<circle cx="426.4" cy="296.1" r="0.32"/>
<circle cx="413.2" cy="306.2" r="0.32"/>
<circle cx="428.4" cy="292.4" r="0.32"/>
<circle cx="418.3" cy="303.0" r="0.32"/>
<circle cx="412.6" cy="304.3" r="0.32"/>
<circle cx="429.6" cy="297.4" r="0.32"/>
<circle cx="421.4" cy="303.7" r="0.32"/>
<circle cx="434.4" cy="290.7" r="0.32"/>
<circle cx="429.4" cy="295.2" r="0.32"/>
<circle cx="420.9" cy="299.3" r="0.32"/>
<circle cx="420.0" cy="299.4" r="0.32"/>
<circle cx="423.0" cy="300.0" r="0.32"/>
<circle cx="431.9" cy="297.6" r="0.32"/>
<circle cx="415.0" cy="308.2" r="0.32"/>
<circle cx="430.2" cy="299.0" r="0.32"/>
<circle cx="412.6" cy="302.7" r="0.32"/>
<circle cx="413.8" cy="307.5" r="0.32"/>
<circle cx="426.7" cy="295.4" r="0.32"/>
<circle cx="432.4" cy="295.2" r="0.32"/>
<circle cx="412.6" cy="307.4" r="0.32"/>
<circle cx="418.5" cy="304.5" r="0.32"/>
<circle cx="408.6" cy="301.6" r="0.32"/>
<circle cx="422.7" cy="299.2" r="0.32"/>
<circle cx="418.5" cy="302.7" r="0.32"/>
<circle cx="408.9" cy="315.4" r="0.32"/>
<circle cx="407.3" cy="306.1" r="0.32"/>
<circle cx="428.5" cy="298.4" r="0.32"/>
<circle cx="411.7" cy="306.6" r="0.32"/>
<circle cx="414.4" cy="308.7" r="0.32"/>
<circle cx="424.5" cy="296.2" r="0.32"/>
<circle cx="403.3" cy="312.6" r="0.32"/>
<circle cx="432.4" cy="289.7" r="0.32"/>
<circle cx="415.9" cy="305.7" r="0.32"/>
<circle cx="417.3" cy="293.7" r="0.32"/>
<circle cx="421.6" cy="293.5" r="0.32"/>
<circle cx="418.2" cy="301.3" r="0.32"/>
<circle cx="427.0" cy="304.2" r="0.32"/>
<circle cx="422.6" cy="300.5" r="0.32"/>
<circle cx="411.3" cy="300.7" r="0.32"/>
<circle cx="415.0" cy="308.1" r="0.32"/>
<circle cx="420.1" cy="301.3" r="0.32"/>
<circle cx="424.9" cy="299.8" r="0.32"/>
<circle cx="423.6" cy="300.4" r="0.32"/>
<circle cx="426.1" cy="296.0" r="0.32"/>
<circle cx="419.3" cy="303.3" r="0.32"/>
<circle cx="419.5" cy="304.2" r="0.32"/>
<circle cx="421.7" cy="299.7" r="0.32"/>
<circle cx="425.7" cy="297.6" r="0.32"/>
<circle cx="408.0" cy="310.4" r="0.32"/>
<circle cx="425.8" cy="303.9" r="0.32"/>
<circle cx="423.1" cy="297.6" r="0.32"/>
<circle cx="428.1" cy="299.9" r="0.32"/>
<circle cx="415.0" cy="310.1" r="0.32"/>
<circle cx="419.1" cy="302.8" r="0.32"/>
<circle cx="413.7" cy="308.7" r="0.32"/>
<circle cx="425.3" cy="298.1" r="0.32"/>
<circle cx="419.7" cy="310.9" r="0.32"/>
<circle cx="413.2" cy="306.4" r="0.32"/>
<circle cx="423.0" cy="298.5" r="0.32"/>
<circle cx="432.5" cy="297.6" r="0.32"/>
<circle cx="419.2" cy="310.3" r="0.32"/>
<circle cx="430.1" cy="298.5" r="0.32"/>
<circle cx="415.3" cy="304.7" r="0.32"/>
<circle cx="415.3" cy="305.7" r="0.32"/>
<circle cx="418.3" cy="302.6" r="0.32"/>
<circle cx="431.0" cy="297.4" r="0.32"/>
<circle cx="428.6" cy="293.4" r="0.32"/>
<circle cx="407.0" cy="307.8" r="0.32"/>
<circle cx="430.3" cy="298.0" r="0.32"/>
<circle cx="432.0" cy="296.1" r="0.32"/>
<circle cx="427.0" cy="295.7" r="0.32"/>
<circle cx="416.4" cy="310.3" r="0.32"/>
<circle cx="414.5" cy="297.6" r="0.32"/>
<circle cx="415.3" cy="311.2" r="0.32"/>
<circle cx="422.2" cy="304.4" r="0.32"/>
<circle cx="415.9" cy="303.8" r="0.32"/>
<circle cx="429.6" cy="295.1" r="0.32"/>
<circle cx="432.1" cy="295.1" r="0.32"/>
<circle cx="427.1" cy="299.2" r="0.32"/>
<circle cx="417.5" cy="306.0" r="0.32"/>
<circle cx="421.7" cy="300.2" r="0.32"/>
<circle cx="426.2" cy="290.8" r="0.32"/>
<circle cx="423.8" cy="295.4" r="0.32"/>
<circle cx="412.4" cy="307.8" r="0.32"/>
<circle cx="412.5" cy="312.0" r="0.32"/>
<circle cx="415.2" cy="304.9" r="0.32"/>
<circle cx="417.0" cy="308.2" r="0.32"/>
<circle cx="430.9" cy="295.4" r="0.32"/>
<circle cx="413.9" cy="309.0" r="0.32"/>
<circle cx="422.4" cy="298.8" r="0.32"/>
<circle cx="414.7" cy="298.9" r="0.32"/>
<circle cx="428.2" cy="293.7" r="0.32"/>
<circle cx="413.1" cy="304.1" r="0.32"/>
<circle cx="417.8" cy="303.8" r="0.32"/>
<circle cx="413.4" cy="307.6" r="0.32"/>
<circle cx="415.5" cy="303.1" r="0.32"/>
<circle cx="408.2" cy="309.5" r="0.32"/>
<circle cx="420.8" cy="306.7" r="0.32"/>
<circle cx="424.9" cy="298.8" r="0.32"/>
<circle cx="422.0" cy="295.8" r="0.32"/>
<circle cx="431.7" cy="295.9" r="0.32"/>
<circle cx="414.8" cy="314.3" r="0.32"/>
<circle cx="424.6" cy="298.5" r="0.32"/>
<circle cx="425.7" cy="296.7" r="0.32"/>
<circle cx="427.5" cy="296.6" r="0.32"/>
<circle cx="420.5" cy="298.1" r="0.32"/>
<circle cx="418.5" cy="304.5" r="0.32"/>
<circle cx="410.8" cy="301.7" r="0.32"/>
<circle cx="416.3" cy="305.4" r="0.32"/>
<circle cx="425.0" cy="301.0" r="0.32"/>
<circle cx="414.6" cy="301.3" r="0.32"/>
<circle cx="413.0" cy="309.0" r="0.32"/>
<circle cx="420.2" cy="299.2" r="0.32"/>
<circle cx="411.5" cy="302.6" r="0.32"/>
<circle cx="412.4" cy="311.4" r="0.32"/>
<circle cx="416.9" cy="307.4" r="0.3"/>
<circle cx="418.6" cy="303.1" r="0.3"/>
<circle cx="437.8" cy="319.9" r="0.3"/>
<circle cx="418.8" cy="296.7" r="0.3"/>
<circle cx="432.7" cy="296.9" r="0.3"/>
<circle cx="405.2" cy="317.1" r="0.3"/>
<circle cx="421.1" cy="314.8" r="0.3"/>
<circle cx="420.4" cy="316.6" r="0.3"/>
<circle cx="422.5" cy="295.7" r="0.3"/>
<circle cx="405.6" cy="307.0" r="0.3"/>
<circle cx="429.3" cy="317.4" r="0.3"/>
<circle cx="408.4" cy="309.0" r="0.3"/>
<circle cx="419.1" cy="305.6" r="0.3"/>
<circle cx="410.5" cy="299.2" r="0.3"/>
<circle cx="424.8" cy="317.8" r="0.3"/>
<circle cx="409.1" cy="305.2" r="0.3"/>
<circle cx="435.6" cy="319.0" r="0.3"/>
<circle cx="412.5" cy="294.7" r="0.3"/>
<circle cx="440.8" cy="319.3" r="0.3"/>
<circle cx="423.3" cy="292.5" r="0.3"/>
<circle cx="440.2" cy="302.2" r="0.3"/>
<circle cx="439.4" cy="309.0" r="0.3"/>
<circle cx="436.3" cy="295.6" r="0.3"/>
<circle cx="434.9" cy="297.4" r="0.3"/>
<circle cx="420.4" cy="315.5" r="0.3"/>
<circle cx="436.5" cy="296.3" r="0.3"/>
<circle cx="413.3" cy="302.6" r="0.3"/>
<circle cx="424.7" cy="302.1" r="0.3"/>
<circle cx="409.7" cy="298.2" r="0.3"/>
<circle cx="432.5" cy="317.0" r="0.3"/>
</g>
<path d="M408.5,315.5 C405.8,313.5 405.5,304 406.5,299.5 C408,296 412,295.5 417,295 C422,294.3 427,292.8 430,293.5 C430.3,295.8 426,298 421.5,300.5 C416.5,303.5 413.5,307.5 412.2,312.5 C411.6,315 410,316.2 408.5,315.5 Z" fill="#cfcfcf" stroke="#8f8f8f" stroke-width="0.45" fill-opacity="0.6"/>
<path d="M409,312.5 C407.2,310.5 407,304 408,301 C409.5,298 413,297.5 417.5,297 C422,296.5 425.5,295.3 427.5,295.7 C426.5,297.5 422.5,299.5 419,301.8 C415,304.5 412.8,308 411.5,311 C411,312.5 410,313.1 409,312.5 Z" fill="#d8d8d8" stroke="#8f8f8f" stroke-width="0.45" fill-opacity="0.6"/>
<path d="M409.6,309.5 C408.6,307.5 408.7,304 409.6,302.3 C411,300 414.5,299.4 418,299 C421,298.6 423.5,298 424.5,298.2 C423,299.6 420,301.2 417,303.2 C414,305.3 412.3,307.4 411.3,309.2 C410.8,310 410.2,310.1 409.6,309.5 Z" fill="#eeeeee" stroke="#999" stroke-width="0.45" fill-opacity="0.6"/>
</g>
<rect x="414" y="290.5" width="29.69999999999999" height="26" fill="none" stroke="#7a7a7a" stroke-width="0.6"/>
<rect x="481.6" y="290.5" width="29.099999999999966" height="26" fill="none" stroke="#7a7a7a" stroke-width="0.6"/>
<path d="M374.3,354.3 L374.3,316" fill="none" stroke="#222" stroke-width="1.2"/>
<path d="M371.9,317.8 L374.3,312.3 L376.7,317.8 Z" fill="#222" stroke="none" stroke-width="1"/>
<path d="M374.3,354.3 L473,354.3" fill="none" stroke="#222" stroke-width="1.2"/>
<path d="M471.5,351.9 L477.1,354.3 L471.5,356.7 Z" fill="#222" stroke="none" stroke-width="1"/>
<text x="377" y="297.1" font-size="9.2" text-anchor="middle" fill="#1a1a1a" stroke="#1a1a1a" stroke-width="0.12" transform="rotate(-90 377 297.1)" textLength="22.5" lengthAdjust="spacingAndGlyphs">TER119</text>
<text x="481" y="356.3" font-size="8.8" text-anchor="start" fill="#1a1a1a" stroke="#1a1a1a" stroke-width="0.12" textLength="31.6" lengthAdjust="spacingAndGlyphs">Annexin V</text>
<text x="7.5" y="379.5" font-size="12.2" text-anchor="start" fill="#000" font-weight="bold">L</text>
<line x1="42" y1="404" x2="42" y2="448" stroke="#111" stroke-width="1.2"/>
<line x1="39.7" y1="407" x2="42" y2="407" stroke="#111" stroke-width="1.08"/>
<text x="36.300000000000004" y="409.52" font-size="7" text-anchor="end" fill="#1a1a1a" stroke="#1a1a1a" stroke-width="0.12">40</text>
<line x1="39.7" y1="417.5" x2="42" y2="417.5" stroke="#111" stroke-width="1.08"/>
<text x="36.300000000000004" y="420.02" font-size="7" text-anchor="end" fill="#1a1a1a" stroke="#1a1a1a" stroke-width="0.12">30</text>
<line x1="39.7" y1="427.5" x2="42" y2="427.5" stroke="#111" stroke-width="1.08"/>
<text x="36.300000000000004" y="430.02" font-size="7" text-anchor="end" fill="#1a1a1a" stroke="#1a1a1a" stroke-width="0.12">20</text>
<line x1="39.7" y1="438" x2="42" y2="438" stroke="#111" stroke-width="1.08"/>
<text x="36.300000000000004" y="440.52" font-size="7" text-anchor="end" fill="#1a1a1a" stroke="#1a1a1a" stroke-width="0.12">10</text>
<line x1="39.7" y1="448" x2="42" y2="448" stroke="#111" stroke-width="1.08"/>
<text x="36.300000000000004" y="450.52" font-size="7" text-anchor="end" fill="#1a1a1a" stroke="#1a1a1a" stroke-width="0.12">0</text>
<line x1="42" y1="448" x2="68.75" y2="448" stroke="#000" stroke-width="1.25"/>
<rect x="45.75" y="414.25" width="7.5" height="33.75" fill="#274684" stroke="#1e3a6e" stroke-width="0.4"/>
<circle cx="48.5" cy="412" r="1.35" fill="#fff" stroke="#2a2a2a" stroke-width="0.65"/>
<circle cx="50" cy="414" r="1.35" fill="#fff" stroke="#2a2a2a" stroke-width="0.65"/>
<circle cx="49.3" cy="416.5" r="1.35" fill="#fff" stroke="#2a2a2a" stroke-width="0.65"/>
<rect x="57.9" y="421.3" width="7.600000000000001" height="26.69999999999999" fill="#a80a2c" stroke="#8c0622" stroke-width="0.4"/>
<circle cx="60.3" cy="420.6" r="1.35" fill="#fff" stroke="#2a2a2a" stroke-width="0.65"/>
<circle cx="62.7" cy="420.9" r="1.35" fill="#fff" stroke="#2a2a2a" stroke-width="0.65"/>
<path d="M49.7,408.90000000000003 L49.7,407.1 L62.4,407.1 L62.4,408.90000000000003" fill="none" stroke="#1a1a1a" stroke-width="1.1"/>
<circle cx="56.1" cy="403.2" r="0.8" fill="#1a1a1a"/>
<text x="23.2" y="426" font-size="7.1" text-anchor="middle" fill="#1a1a1a" stroke="#1a1a1a" stroke-width="0.12" transform="rotate(-90 23.2 426)" textLength="56.1" lengthAdjust="spacingAndGlyphs">Annexin V<tspan font-size="5" baseline-shift="2.8">+</tspan> cells (%)</text>
<text x="53" y="454.9" font-size="7" text-anchor="end" fill="#1a1a1a" stroke="#1a1a1a" stroke-width="0.12" transform="rotate(-45 53 454.9)" textLength="18.0" lengthAdjust="spacingAndGlyphs">Naive</text>
<text x="64.8" y="455.5" font-size="7" text-anchor="end" fill="#1a1a1a" stroke="#1a1a1a" stroke-width="0.12" transform="rotate(-45 64.8 455.5)" textLength="26.4" lengthAdjust="spacingAndGlyphs">LPS 18 h</text>
<text x="79.5" y="379.5" font-size="12.2" text-anchor="start" fill="#000" font-weight="bold">M</text>
<line x1="108.25" y1="385" x2="108.25" y2="448" stroke="#111" stroke-width="1.2"/>
<line x1="105.95" y1="387" x2="108.25" y2="387" stroke="#111" stroke-width="1.08"/>
<text x="103.35" y="389.52" font-size="7" text-anchor="end" fill="#1a1a1a" stroke="#1a1a1a" stroke-width="0.12">120</text>
<line x1="105.95" y1="397.2" x2="108.25" y2="397.2" stroke="#111" stroke-width="1.08"/>
<text x="103.35" y="399.71999999999997" font-size="7" text-anchor="end" fill="#1a1a1a" stroke="#1a1a1a" stroke-width="0.12">100</text>
<line x1="105.95" y1="407.4" x2="108.25" y2="407.4" stroke="#111" stroke-width="1.08"/>
<text x="103.35" y="409.91999999999996" font-size="7" text-anchor="end" fill="#1a1a1a" stroke="#1a1a1a" stroke-width="0.12">80</text>
<line x1="105.95" y1="417.5" x2="108.25" y2="417.5" stroke="#111" stroke-width="1.08"/>
<text x="103.35" y="420.02" font-size="7" text-anchor="end" fill="#1a1a1a" stroke="#1a1a1a" stroke-width="0.12">60</text>
<line x1="105.95" y1="427.7" x2="108.25" y2="427.7" stroke="#111" stroke-width="1.08"/>
<text x="103.35" y="430.21999999999997" font-size="7" text-anchor="end" fill="#1a1a1a" stroke="#1a1a1a" stroke-width="0.12">40</text>
<line x1="105.95" y1="437.9" x2="108.25" y2="437.9" stroke="#111" stroke-width="1.08"/>
<text x="103.35" y="440.41999999999996" font-size="7" text-anchor="end" fill="#1a1a1a" stroke="#1a1a1a" stroke-width="0.12">20</text>
<line x1="105.95" y1="448" x2="108.25" y2="448" stroke="#111" stroke-width="1.08"/>
<text x="103.35" y="450.52" font-size="7" text-anchor="end" fill="#1a1a1a" stroke="#1a1a1a" stroke-width="0.12">0</text>
<line x1="108.25" y1="448" x2="191.25" y2="448" stroke="#000" stroke-width="1.25"/>
<line x1="108.25" y1="448" x2="108.25" y2="450" stroke="#111" stroke-width="1"/>
<line x1="124.5" y1="448" x2="124.5" y2="450" stroke="#111" stroke-width="1"/>
<line x1="141" y1="448" x2="141" y2="450" stroke="#111" stroke-width="1"/>
<line x1="157.5" y1="448" x2="157.5" y2="450" stroke="#111" stroke-width="1"/>
<line x1="174" y1="448" x2="174" y2="450" stroke="#111" stroke-width="1"/>
<line x1="190.3" y1="448" x2="190.3" y2="450" stroke="#111" stroke-width="1"/>
<text x="108.25" y="460" font-size="6.8" text-anchor="middle" fill="#1a1a1a" stroke="#1a1a1a" stroke-width="0.12">0</text>
<text x="124.5" y="460" font-size="6.8" text-anchor="middle" fill="#1a1a1a" stroke="#1a1a1a" stroke-width="0.12">20</text>
<text x="141" y="460" font-size="6.8" text-anchor="middle" fill="#1a1a1a" stroke="#1a1a1a" stroke-width="0.12">40</text>
<text x="157.5" y="460" font-size="6.8" text-anchor="middle" fill="#1a1a1a" stroke="#1a1a1a" stroke-width="0.12">60</text>
<text x="174" y="460" font-size="6.8" text-anchor="middle" fill="#1a1a1a" stroke="#1a1a1a" stroke-width="0.12">80</text>
<text x="190.3" y="460" font-size="6.8" text-anchor="middle" fill="#1a1a1a" stroke="#1a1a1a" stroke-width="0.12">100</text>
<text x="108.25" y="470.7" font-size="6.8" text-anchor="middle" fill="#1a1a1a" stroke="#1a1a1a" stroke-width="0.12">100</text>
<text x="124.5" y="470.7" font-size="6.8" text-anchor="middle" fill="#1a1a1a" stroke="#1a1a1a" stroke-width="0.12">80</text>
<text x="141" y="470.7" font-size="6.8" text-anchor="middle" fill="#1a1a1a" stroke="#1a1a1a" stroke-width="0.12">60</text>
<text x="157.5" y="470.7" font-size="6.8" text-anchor="middle" fill="#1a1a1a" stroke="#1a1a1a" stroke-width="0.12">40</text>
<text x="174" y="470.7" font-size="6.8" text-anchor="middle" fill="#1a1a1a" stroke="#1a1a1a" stroke-width="0.12">20</text>
<text x="190.3" y="470.7" font-size="6.8" text-anchor="middle" fill="#1a1a1a" stroke="#1a1a1a" stroke-width="0.12">0</text>
<text x="82.3" y="460" font-size="6.8" text-anchor="start" fill="#1a1a1a" stroke="#1a1a1a" stroke-width="0.12" textLength="12" lengthAdjust="spacingAndGlyphs">DW</text>
<text x="82.3" y="470.7" font-size="6.8" text-anchor="start" fill="#1a1a1a" stroke="#1a1a1a" stroke-width="0.12" textLength="12.5" lengthAdjust="spacingAndGlyphs">PBS</text>
<text x="87.6" y="416.1" font-size="7.2" text-anchor="middle" fill="#1a1a1a" stroke="#1a1a1a" stroke-width="0.12" transform="rotate(-90 87.6 416.1)" textLength="38.6" lengthAdjust="spacingAndGlyphs">Hemolysis (%)</text>
<path d="M108.25,448.00 C109.62,447.66 113.72,447.15 116.45,445.97 C119.19,444.78 121.92,443.59 124.66,440.88 C127.39,438.17 130.13,433.77 132.87,429.70 C135.60,425.63 138.33,420.55 141.07,416.49 C143.81,412.42 147.22,407.93 149.28,405.30 C151.33,402.68 152.01,401.32 153.38,400.73 C154.75,400.14 155.43,401.41 157.48,401.74 C159.53,402.08 162.95,402.42 165.69,402.76 C168.42,403.10 171.15,404.03 173.89,403.78 C176.62,403.52 179.36,402.34 182.09,401.24 C184.83,400.14 188.93,397.85 190.30,397.17" fill="none" stroke="#6b8fd0" stroke-width="0.8"/>
<path d="M108.25,448.00 C108.93,447.15 110.99,443.43 112.35,442.92 C113.72,442.41 115.09,443.93 116.45,444.95 C117.82,445.97 119.19,448.34 120.56,449.02 C121.93,449.69 123.29,449.69 124.66,449.02 C126.03,448.34 127.39,446.14 128.76,444.95 C130.13,443.76 131.50,443.26 132.87,441.90 C134.23,440.54 135.60,439.36 136.97,436.82 C138.34,434.28 139.70,429.87 141.07,426.65 C142.44,423.43 143.81,420.30 145.17,417.50 C146.54,414.71 147.91,411.91 149.28,409.88 C150.64,407.84 152.01,406.23 153.38,405.30 C154.75,404.37 155.43,404.46 157.48,404.29 C159.53,404.12 162.95,404.29 165.69,404.29 C168.42,404.29 171.15,404.71 173.89,404.29 C176.62,403.86 179.36,402.93 182.09,401.74 C184.83,400.56 188.93,397.93 190.30,397.17" fill="none" stroke="#d06070" stroke-width="0.8"/>
<line x1="108.25" y1="448.5083" x2="108.25" y2="447.4917" stroke="#333" stroke-width="0.6"/>
<line x1="107.05" y1="448.5083" x2="109.45" y2="448.5083" stroke="#333" stroke-width="0.6"/>
<line x1="107.05" y1="447.4917" x2="109.45" y2="447.4917" stroke="#333" stroke-width="0.6"/>
<line x1="120.5575" y1="448.5083" x2="120.5575" y2="444.4419" stroke="#333" stroke-width="0.6"/>
<line x1="119.3575" y1="448.5083" x2="121.75750000000001" y2="448.5083" stroke="#333" stroke-width="0.6"/>
<line x1="119.3575" y1="444.4419" x2="121.75750000000001" y2="444.4419" stroke="#333" stroke-width="0.6"/>
<line x1="128.7625" y1="438.3423" x2="128.7625" y2="430.2095" stroke="#333" stroke-width="0.6"/>
<line x1="127.56249999999999" y1="438.3423" x2="129.96249999999998" y2="438.3423" stroke="#333" stroke-width="0.6"/>
<line x1="127.56249999999999" y1="430.2095" x2="129.96249999999998" y2="430.2095" stroke="#333" stroke-width="0.6"/>
<line x1="136.9675" y1="429.1929" x2="136.9675" y2="421.0601" stroke="#333" stroke-width="0.6"/>
<line x1="135.7675" y1="429.1929" x2="138.1675" y2="429.1929" stroke="#333" stroke-width="0.6"/>
<line x1="135.7675" y1="421.0601" x2="138.1675" y2="421.0601" stroke="#333" stroke-width="0.6"/>
<line x1="141.07" y1="418.5186" x2="141.07" y2="412.419" stroke="#333" stroke-width="0.6"/>
<line x1="139.87" y1="418.5186" x2="142.26999999999998" y2="418.5186" stroke="#333" stroke-width="0.6"/>
<line x1="139.87" y1="412.419" x2="142.26999999999998" y2="412.419" stroke="#333" stroke-width="0.6"/>
<line x1="145.1725" y1="415.4688" x2="145.1725" y2="409.3692" stroke="#333" stroke-width="0.6"/>
<line x1="143.97250000000003" y1="415.4688" x2="146.3725" y2="415.4688" stroke="#333" stroke-width="0.6"/>
<line x1="143.97250000000003" y1="409.3692" x2="146.3725" y2="409.3692" stroke="#333" stroke-width="0.6"/>
<line x1="149.275" y1="409.3692" x2="149.275" y2="403.2696" stroke="#333" stroke-width="0.6"/>
<line x1="148.07500000000002" y1="409.3692" x2="150.475" y2="409.3692" stroke="#333" stroke-width="0.6"/>
<line x1="148.07500000000002" y1="403.2696" x2="150.475" y2="403.2696" stroke="#333" stroke-width="0.6"/>
<line x1="153.3775" y1="402.7613" x2="153.3775" y2="394.62850000000003" stroke="#333" stroke-width="0.6"/>
<line x1="152.1775" y1="402.7613" x2="154.5775" y2="402.7613" stroke="#333" stroke-width="0.6"/>
<line x1="152.1775" y1="394.62850000000003" x2="154.5775" y2="394.62850000000003" stroke="#333" stroke-width="0.6"/>
<line x1="157.48000000000002" y1="406.3194" x2="157.48000000000002" y2="398.1866" stroke="#333" stroke-width="0.6"/>
<line x1="156.28000000000003" y1="406.3194" x2="158.68" y2="406.3194" stroke="#333" stroke-width="0.6"/>
<line x1="156.28000000000003" y1="398.1866" x2="158.68" y2="398.1866" stroke="#333" stroke-width="0.6"/>
<line x1="161.5825" y1="406.8277" x2="161.5825" y2="398.6949" stroke="#333" stroke-width="0.6"/>
<line x1="160.38250000000002" y1="406.8277" x2="162.7825" y2="406.8277" stroke="#333" stroke-width="0.6"/>
<line x1="160.38250000000002" y1="398.6949" x2="162.7825" y2="398.6949" stroke="#333" stroke-width="0.6"/>
<line x1="165.685" y1="405.3028" x2="165.685" y2="399.2032" stroke="#333" stroke-width="0.6"/>
<line x1="164.485" y1="405.3028" x2="166.885" y2="405.3028" stroke="#333" stroke-width="0.6"/>
<line x1="164.485" y1="399.2032" x2="166.885" y2="399.2032" stroke="#333" stroke-width="0.6"/>
<line x1="173.89" y1="406.8277" x2="173.89" y2="399.7115" stroke="#333" stroke-width="0.6"/>
<line x1="172.69" y1="406.8277" x2="175.08999999999997" y2="406.8277" stroke="#333" stroke-width="0.6"/>
<line x1="172.69" y1="399.7115" x2="175.08999999999997" y2="399.7115" stroke="#333" stroke-width="0.6"/>
<line x1="182.095" y1="403.7779" x2="182.095" y2="397.6783" stroke="#333" stroke-width="0.6"/>
<line x1="180.895" y1="403.7779" x2="183.295" y2="403.7779" stroke="#333" stroke-width="0.6"/>
<line x1="180.895" y1="397.6783" x2="183.295" y2="397.6783" stroke="#333" stroke-width="0.6"/>
<line x1="190.3" y1="401.2364" x2="190.3" y2="393.10360000000003" stroke="#333" stroke-width="0.6"/>
<line x1="189.10000000000002" y1="401.2364" x2="191.5" y2="401.2364" stroke="#333" stroke-width="0.6"/>
<line x1="189.10000000000002" y1="393.10360000000003" x2="191.5" y2="393.10360000000003" stroke="#333" stroke-width="0.6"/>
<line x1="108.25" y1="448.5083" x2="108.25" y2="447.4917" stroke="#333" stroke-width="0.6"/>
<line x1="107.05" y1="448.5083" x2="109.45" y2="448.5083" stroke="#333" stroke-width="0.6"/>
<line x1="107.05" y1="447.4917" x2="109.45" y2="447.4917" stroke="#333" stroke-width="0.6"/>
<circle cx="108.25" cy="448.0" r="1.6" fill="#a80a2c" stroke="none" stroke-width="1"/>
<line x1="120.5575" y1="448.5083" x2="120.5575" y2="445.4585" stroke="#333" stroke-width="0.6"/>
<line x1="119.3575" y1="448.5083" x2="121.75750000000001" y2="448.5083" stroke="#333" stroke-width="0.6"/>
<line x1="119.3575" y1="445.4585" x2="121.75750000000001" y2="445.4585" stroke="#333" stroke-width="0.6"/>
<circle cx="120.5575" cy="446.9834" r="1.6" fill="#a80a2c" stroke="none" stroke-width="1"/>
<line x1="128.7625" y1="445.9668" x2="128.7625" y2="437.834" stroke="#333" stroke-width="0.6"/>
<line x1="127.56249999999999" y1="445.9668" x2="129.96249999999998" y2="445.9668" stroke="#333" stroke-width="0.6"/>
<line x1="127.56249999999999" y1="437.834" x2="129.96249999999998" y2="437.834" stroke="#333" stroke-width="0.6"/>
<circle cx="128.7625" cy="441.9004" r="1.6" fill="#a80a2c" stroke="none" stroke-width="1"/>
<line x1="136.9675" y1="441.9004" x2="136.9675" y2="433.7676" stroke="#333" stroke-width="0.6"/>
<line x1="135.7675" y1="441.9004" x2="138.1675" y2="441.9004" stroke="#333" stroke-width="0.6"/>
<line x1="135.7675" y1="433.7676" x2="138.1675" y2="433.7676" stroke="#333" stroke-width="0.6"/>
<circle cx="136.9675" cy="437.834" r="1.6" fill="#a80a2c" stroke="none" stroke-width="1"/>
<line x1="141.07" y1="431.7344" x2="141.07" y2="423.6016" stroke="#333" stroke-width="0.6"/>
<line x1="139.87" y1="431.7344" x2="142.26999999999998" y2="431.7344" stroke="#333" stroke-width="0.6"/>
<line x1="139.87" y1="423.6016" x2="142.26999999999998" y2="423.6016" stroke="#333" stroke-width="0.6"/>
<circle cx="141.07" cy="427.668" r="1.6" fill="#a80a2c" stroke="none" stroke-width="1"/>
<line x1="145.1725" y1="420.5518" x2="145.1725" y2="414.4522" stroke="#333" stroke-width="0.6"/>
<line x1="143.97250000000003" y1="420.5518" x2="146.3725" y2="420.5518" stroke="#333" stroke-width="0.6"/>
<line x1="143.97250000000003" y1="414.4522" x2="146.3725" y2="414.4522" stroke="#333" stroke-width="0.6"/>
<circle cx="145.1725" cy="417.502" r="1.6" fill="#a80a2c" stroke="none" stroke-width="1"/>
<line x1="149.275" y1="412.9273" x2="149.275" y2="406.8277" stroke="#333" stroke-width="0.6"/>
<line x1="148.07500000000002" y1="412.9273" x2="150.475" y2="412.9273" stroke="#333" stroke-width="0.6"/>
<line x1="148.07500000000002" y1="406.8277" x2="150.475" y2="406.8277" stroke="#333" stroke-width="0.6"/>
<circle cx="149.275" cy="409.8775" r="1.6" fill="#a80a2c" stroke="none" stroke-width="1"/>
<line x1="153.3775" y1="408.8609" x2="153.3775" y2="400.7281" stroke="#333" stroke-width="0.6"/>
<line x1="152.1775" y1="408.8609" x2="154.5775" y2="408.8609" stroke="#333" stroke-width="0.6"/>
<line x1="152.1775" y1="400.7281" x2="154.5775" y2="400.7281" stroke="#333" stroke-width="0.6"/>
<circle cx="153.3775" cy="404.79449999999997" r="1.6" fill="#a80a2c" stroke="none" stroke-width="1"/>
<line x1="157.48000000000002" y1="409.3692" x2="157.48000000000002" y2="401.2364" stroke="#333" stroke-width="0.6"/>
<line x1="156.28000000000003" y1="409.3692" x2="158.68" y2="409.3692" stroke="#333" stroke-width="0.6"/>
<line x1="156.28000000000003" y1="401.2364" x2="158.68" y2="401.2364" stroke="#333" stroke-width="0.6"/>
<circle cx="157.48000000000002" cy="405.3028" r="1.6" fill="#a80a2c" stroke="none" stroke-width="1"/>
<line x1="161.5825" y1="409.8775" x2="161.5825" y2="401.7447" stroke="#333" stroke-width="0.6"/>
<line x1="160.38250000000002" y1="409.8775" x2="162.7825" y2="409.8775" stroke="#333" stroke-width="0.6"/>
<line x1="160.38250000000002" y1="401.7447" x2="162.7825" y2="401.7447" stroke="#333" stroke-width="0.6"/>
<circle cx="161.5825" cy="405.8111" r="1.6" fill="#a80a2c" stroke="none" stroke-width="1"/>
<line x1="173.89" y1="407.336" x2="173.89" y2="401.2364" stroke="#333" stroke-width="0.6"/>
<line x1="172.69" y1="407.336" x2="175.08999999999997" y2="407.336" stroke="#333" stroke-width="0.6"/>
<line x1="172.69" y1="401.2364" x2="175.08999999999997" y2="401.2364" stroke="#333" stroke-width="0.6"/>
<circle cx="173.89" cy="404.2862" r="1.6" fill="#a80a2c" stroke="none" stroke-width="1"/>
<line x1="182.095" y1="404.79449999999997" x2="182.095" y2="398.6949" stroke="#333" stroke-width="0.6"/>
<line x1="180.895" y1="404.79449999999997" x2="183.295" y2="404.79449999999997" stroke="#333" stroke-width="0.6"/>
<line x1="180.895" y1="398.6949" x2="183.295" y2="398.6949" stroke="#333" stroke-width="0.6"/>
<circle cx="182.095" cy="401.7447" r="1.6" fill="#a80a2c" stroke="none" stroke-width="1"/>
<line x1="190.3" y1="400.2198" x2="190.3" y2="394.1202" stroke="#333" stroke-width="0.6"/>
<line x1="189.10000000000002" y1="400.2198" x2="191.5" y2="400.2198" stroke="#333" stroke-width="0.6"/>
<line x1="189.10000000000002" y1="394.1202" x2="191.5" y2="394.1202" stroke="#333" stroke-width="0.6"/>
<circle cx="190.3" cy="397.17" r="1.6" fill="#a80a2c" stroke="none" stroke-width="1"/>
<circle cx="108.25" cy="448.0" r="1.35" fill="#fff" stroke="#6b8fd0" stroke-width="0.8"/>
<circle cx="120.5575" cy="446.4751" r="1.35" fill="#fff" stroke="#6b8fd0" stroke-width="0.8"/>
<circle cx="128.7625" cy="434.2759" r="1.35" fill="#fff" stroke="#6b8fd0" stroke-width="0.8"/>
<circle cx="136.9675" cy="425.1265" r="1.35" fill="#fff" stroke="#6b8fd0" stroke-width="0.8"/>
<circle cx="141.07" cy="415.4688" r="1.35" fill="#fff" stroke="#6b8fd0" stroke-width="0.8"/>
<circle cx="145.1725" cy="412.419" r="1.35" fill="#fff" stroke="#6b8fd0" stroke-width="0.8"/>
<circle cx="149.275" cy="406.3194" r="1.35" fill="#fff" stroke="#6b8fd0" stroke-width="0.8"/>
<circle cx="153.3775" cy="398.6949" r="1.35" fill="#fff" stroke="#6b8fd0" stroke-width="0.8"/>
<circle cx="157.48000000000002" cy="402.253" r="1.35" fill="#fff" stroke="#6b8fd0" stroke-width="0.8"/>
<circle cx="161.5825" cy="402.7613" r="1.35" fill="#fff" stroke="#6b8fd0" stroke-width="0.8"/>
<circle cx="165.685" cy="402.253" r="1.35" fill="#fff" stroke="#6b8fd0" stroke-width="0.8"/>
<circle cx="173.89" cy="403.2696" r="1.35" fill="#fff" stroke="#6b8fd0" stroke-width="0.8"/>
<circle cx="182.095" cy="400.7281" r="1.35" fill="#fff" stroke="#6b8fd0" stroke-width="0.8"/>
<circle cx="190.3" cy="397.17" r="1.35" fill="#fff" stroke="#6b8fd0" stroke-width="0.8"/>
<circle cx="158.2" cy="427.7" r="1.4" fill="#fff" stroke="#6b8fd0" stroke-width="0.85"/>
<text x="162" y="430.2" font-size="7" text-anchor="start" fill="#1a1a1a" stroke="#1a1a1a" stroke-width="0.12" textLength="18" lengthAdjust="spacingAndGlyphs">Naive</text>
<circle cx="158.2" cy="435" r="1.6" fill="#a80a2c" stroke="none" stroke-width="1"/>
<text x="162" y="437.5" font-size="7" text-anchor="start" fill="#1a1a1a" stroke="#1a1a1a" stroke-width="0.12" textLength="25.4" lengthAdjust="spacingAndGlyphs">LPS 18h</text>
<text x="205.5" y="379.5" font-size="12.2" text-anchor="start" fill="#000" font-weight="bold">N</text>
<line x1="240.75" y1="404" x2="240.75" y2="448" stroke="#111" stroke-width="1.2"/>
<line x1="238.45" y1="406.25" x2="240.75" y2="406.25" stroke="#111" stroke-width="1.08"/>
<text x="234.45" y="408.77" font-size="7" text-anchor="end" fill="#1a1a1a" stroke="#1a1a1a" stroke-width="0.12">50</text>
<line x1="238.45" y1="417" x2="240.75" y2="417" stroke="#111" stroke-width="1.08"/>
<text x="234.45" y="419.52" font-size="7" text-anchor="end" fill="#1a1a1a" stroke="#1a1a1a" stroke-width="0.12">45</text>
<line x1="238.45" y1="427" x2="240.75" y2="427" stroke="#111" stroke-width="1.08"/>
<text x="234.45" y="429.52" font-size="7" text-anchor="end" fill="#1a1a1a" stroke="#1a1a1a" stroke-width="0.12">40</text>
<line x1="238.45" y1="437.5" x2="240.75" y2="437.5" stroke="#111" stroke-width="1.08"/>
<text x="234.45" y="440.02" font-size="7" text-anchor="end" fill="#1a1a1a" stroke="#1a1a1a" stroke-width="0.12">35</text>
<line x1="238.45" y1="448" x2="240.75" y2="448" stroke="#111" stroke-width="1.08"/>
<text x="234.45" y="450.52" font-size="7" text-anchor="end" fill="#1a1a1a" stroke="#1a1a1a" stroke-width="0.12">30</text>
<line x1="240.75" y1="448" x2="267.5" y2="448" stroke="#000" stroke-width="1.25"/>
<rect x="244.25" y="435" width="7.5" height="13" fill="#274684" stroke="#1e3a6e" stroke-width="0.4"/>
<circle cx="246.5" cy="434.3" r="1.35" fill="#fff" stroke="#2a2a2a" stroke-width="0.65"/>
<circle cx="248.3" cy="435.4" r="1.35" fill="#fff" stroke="#2a2a2a" stroke-width="0.65"/>
<rect x="255.75" y="422" width="8.0" height="26" fill="#a80a2c" stroke="#8c0622" stroke-width="0.4"/>
<line x1="259.75" y1="419" x2="259.75" y2="424" stroke="#111" stroke-width="0.8"/>
<line x1="258.25" y1="419" x2="261.25" y2="419" stroke="#111" stroke-width="0.8"/>
<circle cx="258" cy="419.8" r="1.35" fill="#fff" stroke="#2a2a2a" stroke-width="0.65"/>
<circle cx="261.3" cy="419.8" r="1.35" fill="#fff" stroke="#2a2a2a" stroke-width="0.65"/>
<circle cx="259.5" cy="426" r="1.35" fill="#fff" stroke="#2a2a2a" stroke-width="0.65"/>
<path d="M248,415.90000000000003 L248,414.1 L260,414.1 L260,415.90000000000003" fill="none" stroke="#1a1a1a" stroke-width="1.1"/>
<circle cx="253.8" cy="410.3" r="0.8" fill="#1a1a1a"/>
<text x="212.3" y="426.8" font-size="7.1" text-anchor="middle" fill="#1a1a1a" stroke="#1a1a1a" stroke-width="0.12" transform="rotate(-90 212.3 426.8)" textLength="32.8" lengthAdjust="spacingAndGlyphs">DW conc. for</text>
<text x="220.6" y="425.4" font-size="7.1" text-anchor="middle" fill="#1a1a1a" stroke="#1a1a1a" stroke-width="0.12" transform="rotate(-90 220.6 425.4)" textLength="51.7" lengthAdjust="spacingAndGlyphs">50% hemolysis (%)</text>
<text x="250.8" y="454.4" font-size="7" text-anchor="end" fill="#1a1a1a" stroke="#1a1a1a" stroke-width="0.12" transform="rotate(-45 250.8 454.4)" textLength="18.0" lengthAdjust="spacingAndGlyphs">Naive</text>
<text x="263.1" y="455.2" font-size="7" text-anchor="end" fill="#1a1a1a" stroke="#1a1a1a" stroke-width="0.12" transform="rotate(-45 263.1 455.2)" textLength="26.4" lengthAdjust="spacingAndGlyphs">LPS 18 h</text>
<text x="264.5" y="379.5" font-size="12.2" text-anchor="start" fill="#000" font-weight="bold">O</text>
<text x="287.5" y="403" font-size="6.8" text-anchor="middle" fill="#1a1a1a" stroke="#1a1a1a" stroke-width="0.12" textLength="17.5" lengthAdjust="spacingAndGlyphs">Naive</text>
<text x="313.75" y="395" font-size="6.8" text-anchor="middle" fill="#1a1a1a" stroke="#1a1a1a" stroke-width="0.12" textLength="11.5" lengthAdjust="spacingAndGlyphs">LPS</text>
<text x="313.75" y="403" font-size="6.8" text-anchor="middle" fill="#1a1a1a" stroke="#1a1a1a" stroke-width="0.12" textLength="10.5" lengthAdjust="spacingAndGlyphs">18h</text>
<defs>
<linearGradient id="ot1" x1="0" y1="0" x2="1" y2="0"><stop offset="0" stop-color="#6e2a2a"/><stop offset="0.25" stop-color="#a84444"/><stop offset="0.55" stop-color="#c86a66"/><stop offset="0.8" stop-color="#a8403e"/><stop offset="1" stop-color="#6a2424"/></linearGradient>
<linearGradient id="ot2" x1="0" y1="0" x2="1" y2="0"><stop offset="0" stop-color="#8a1a1e"/><stop offset="0.25" stop-color="#c81e28"/><stop offset="0.55" stop-color="#e0303a"/><stop offset="0.8" stop-color="#c41c26"/><stop offset="1" stop-color="#8a161c"/></linearGradient>
<linearGradient id="obg2" x1="0" y1="0" x2="1" y2="0"><stop offset="0" stop-color="#a09b96"/><stop offset="0.12" stop-color="#bcb8b3"/><stop offset="0.5" stop-color="#cac6c2"/><stop offset="1" stop-color="#c4c0bc"/></linearGradient>
</defs>
<rect x="277" y="407.6" width="45.8" height="40.2" fill="url(#obg2)" stroke="none" stroke-width="1"/>
<path d="M280,407.6 L294.8,407.6 L293.3,428 C292.3,437 290.8,443.5 289.4,445.3 L287.0,445.3 C285.59999999999997,443.5 282.5,437 281.5,428 Z" fill="url(#ot1)" stroke="none" stroke-width="1"/>
<ellipse cx="288.2" cy="446" rx="2.2" ry="0.9" fill="#d0c8c4" opacity="0.7"/>
<path d="M306.5,407.6 L321,407.6 L319.5,428 C318.5,437 314.90000000000003,443.5 313.5,445.3 L311.1,445.3 C309.7,443.5 309.0,437 308.0,428 Z" fill="url(#ot2)" stroke="none" stroke-width="1"/>
<ellipse cx="312.3" cy="446" rx="2.2" ry="0.9" fill="#d0c8c4" opacity="0.7"/>
<line x1="290.4" y1="423" x2="289.2" y2="433.2" stroke="#f8eeee" stroke-width="0.9"/>
<line x1="314.5" y1="423" x2="313.5" y2="434.6" stroke="#f8eeee" stroke-width="0.9"/>
<text x="333.75" y="379.5" font-size="12.2" text-anchor="start" fill="#000" font-weight="bold">P</text>
<line x1="371.25" y1="404" x2="371.25" y2="448" stroke="#111" stroke-width="1.2"/>
<line x1="368.95" y1="406.25" x2="371.25" y2="406.25" stroke="#111" stroke-width="1.08"/>
<text x="365.35" y="408.77" font-size="7" text-anchor="end" fill="#1a1a1a" stroke="#1a1a1a" stroke-width="0.12">15</text>
<line x1="368.95" y1="420.5" x2="371.25" y2="420.5" stroke="#111" stroke-width="1.08"/>
<text x="365.35" y="423.02" font-size="7" text-anchor="end" fill="#1a1a1a" stroke="#1a1a1a" stroke-width="0.12">10</text>
<line x1="368.95" y1="434.25" x2="371.25" y2="434.25" stroke="#111" stroke-width="1.08"/>
<text x="365.35" y="436.77" font-size="7" text-anchor="end" fill="#1a1a1a" stroke="#1a1a1a" stroke-width="0.12">5</text>
<line x1="368.95" y1="448" x2="371.25" y2="448" stroke="#111" stroke-width="1.08"/>
<text x="365.35" y="450.52" font-size="7" text-anchor="end" fill="#1a1a1a" stroke="#1a1a1a" stroke-width="0.12">0</text>
<line x1="371.25" y1="448" x2="398.2" y2="448" stroke="#000" stroke-width="1.25"/>
<rect x="375" y="431.25" width="7.5" height="16.75" fill="#274684" stroke="#1e3a6e" stroke-width="0.4"/>
<circle cx="377.5" cy="430" r="1.35" fill="#fff" stroke="#2a2a2a" stroke-width="0.65"/>
<circle cx="379.5" cy="431.5" r="1.35" fill="#fff" stroke="#2a2a2a" stroke-width="0.65"/>
<circle cx="378.5" cy="433" r="1.35" fill="#fff" stroke="#2a2a2a" stroke-width="0.65"/>
<rect x="386.75" y="419.5" width="7.75" height="28.5" fill="#a80a2c" stroke="#8c0622" stroke-width="0.4"/>
<line x1="390.625" y1="417" x2="390.625" y2="422" stroke="#111" stroke-width="0.8"/>
<line x1="389.125" y1="417" x2="392.125" y2="417" stroke="#111" stroke-width="0.8"/>
<circle cx="390.5" cy="412" r="1.35" fill="#fff" stroke="#2a2a2a" stroke-width="0.65"/>
<circle cx="389.5" cy="420" r="1.35" fill="#fff" stroke="#2a2a2a" stroke-width="0.65"/>
<circle cx="391.5" cy="423" r="1.35" fill="#fff" stroke="#2a2a2a" stroke-width="0.65"/>
<circle cx="389.8" cy="426" r="1.35" fill="#fff" stroke="#2a2a2a" stroke-width="0.65"/>
<path d="M379.6,407.5 L379.6,405.7 L391.2,405.7 L391.2,407.5" fill="none" stroke="#1a1a1a" stroke-width="1.1"/>
<circle cx="385.4" cy="402.5" r="0.8" fill="#1a1a1a"/>
<text x="342.5" y="425.6" font-size="6.8" text-anchor="middle" fill="#1a1a1a" stroke="#1a1a1a" stroke-width="0.12" transform="rotate(-90 342.5 425.6)" textLength="56" lengthAdjust="spacingAndGlyphs">TER119<tspan font-size="5" baseline-shift="2.8">+</tspan>CD45<tspan font-size="5" baseline-shift="2.8">-</tspan> cells</text>
<text x="352" y="425.6" font-size="6.8" text-anchor="middle" fill="#1a1a1a" stroke="#1a1a1a" stroke-width="0.12" transform="rotate(-90 352 425.6)" textLength="49" lengthAdjust="spacingAndGlyphs">(X10<tspan font-size="4.2" baseline-shift="2.4">7</tspan>/ hind limb)</text>
<text x="382.2" y="454.6" font-size="7" text-anchor="end" fill="#1a1a1a" stroke="#1a1a1a" stroke-width="0.12" transform="rotate(-45 382.2 454.6)" textLength="18.0" lengthAdjust="spacingAndGlyphs">Naive</text>
<text x="394" y="455.3" font-size="7" text-anchor="end" fill="#1a1a1a" stroke="#1a1a1a" stroke-width="0.12" transform="rotate(-45 394 455.3)" textLength="26.4" lengthAdjust="spacingAndGlyphs">LPS 18 h</text>
<text x="407.5" y="379.5" font-size="12.2" text-anchor="start" fill="#000" font-weight="bold">Q</text>
<rect x="444.8" y="388" width="3.6" height="3.6" fill="#274684" stroke="none" stroke-width="1"/>
<text x="451.9" y="392.2" font-size="7" text-anchor="start" fill="#1a1a1a" stroke="#1a1a1a" stroke-width="0.12" textLength="16.8" lengthAdjust="spacingAndGlyphs">Naive</text>
<rect x="444.8" y="398" width="3.6" height="3.6" fill="#a80a2c" stroke="none" stroke-width="1"/>
<text x="451.9" y="402.7" font-size="7" text-anchor="start" fill="#1a1a1a" stroke="#1a1a1a" stroke-width="0.12" textLength="25.7" lengthAdjust="spacingAndGlyphs">LPS 18 h</text>
<line x1="433.25" y1="404" x2="433.25" y2="448" stroke="#111" stroke-width="1.2"/>
<line x1="430.95" y1="407" x2="433.25" y2="407" stroke="#111" stroke-width="1.08"/>
<text x="427.05" y="409.52" font-size="7" text-anchor="end" fill="#1a1a1a" stroke="#1a1a1a" stroke-width="0.12">3</text>
<line x1="430.95" y1="420.75" x2="433.25" y2="420.75" stroke="#111" stroke-width="1.08"/>
<text x="427.05" y="423.27" font-size="7" text-anchor="end" fill="#1a1a1a" stroke="#1a1a1a" stroke-width="0.12">2</text>
<line x1="430.95" y1="434.25" x2="433.25" y2="434.25" stroke="#111" stroke-width="1.08"/>
<text x="427.05" y="436.77" font-size="7" text-anchor="end" fill="#1a1a1a" stroke="#1a1a1a" stroke-width="0.12">1</text>
<line x1="430.95" y1="448" x2="433.25" y2="448" stroke="#111" stroke-width="1.08"/>
<text x="427.05" y="450.52" font-size="7" text-anchor="end" fill="#1a1a1a" stroke="#1a1a1a" stroke-width="0.12">0</text>
<line x1="433.25" y1="448" x2="487.5" y2="448" stroke="#000" stroke-width="1.25"/>
<rect x="437" y="432" width="8" height="16" fill="#274684" stroke="#1e3a6e" stroke-width="0.4"/>
<line x1="441.0" y1="429" x2="441.0" y2="434" stroke="#111" stroke-width="0.8"/>
<line x1="439.5" y1="429" x2="442.5" y2="429" stroke="#111" stroke-width="0.8"/>
<circle cx="439" cy="431" r="1.35" fill="#fff" stroke="#2a2a2a" stroke-width="0.65"/>
<circle cx="441.5" cy="430" r="1.35" fill="#fff" stroke="#2a2a2a" stroke-width="0.65"/>
<circle cx="443" cy="428.5" r="1.35" fill="#fff" stroke="#2a2a2a" stroke-width="0.65"/>
<circle cx="440" cy="432.5" r="1.35" fill="#fff" stroke="#2a2a2a" stroke-width="0.65"/>
<circle cx="441" cy="436" r="1.35" fill="#fff" stroke="#2a2a2a" stroke-width="0.65"/>
<rect x="448.75" y="445.5" width="8.0" height="2.5" fill="#a80a2c" stroke="#8c0622" stroke-width="0.4"/>
<circle cx="451" cy="445" r="1.35" fill="#fff" stroke="#2a2a2a" stroke-width="0.65"/>
<circle cx="452.5" cy="443.5" r="1.35" fill="#fff" stroke="#2a2a2a" stroke-width="0.65"/>
<circle cx="454" cy="445.5" r="1.35" fill="#fff" stroke="#2a2a2a" stroke-width="0.65"/>
<circle cx="452" cy="446.5" r="1.35" fill="#fff" stroke="#2a2a2a" stroke-width="0.65"/>
<rect x="464.5" y="433.25" width="8.0" height="14.75" fill="#274684" stroke="#1e3a6e" stroke-width="0.4"/>
<circle cx="467" cy="432" r="1.35" fill="#fff" stroke="#2a2a2a" stroke-width="0.65"/>
<circle cx="468.5" cy="430.5" r="1.35" fill="#fff" stroke="#2a2a2a" stroke-width="0.65"/>
<circle cx="469.5" cy="433.5" r="1.35" fill="#fff" stroke="#2a2a2a" stroke-width="0.65"/>
<rect x="476.25" y="426.25" width="8.0" height="21.75" fill="#a80a2c" stroke="#8c0622" stroke-width="0.4"/>
<line x1="480.25" y1="424" x2="480.25" y2="429" stroke="#111" stroke-width="0.8"/>
<line x1="478.75" y1="424" x2="481.75" y2="424" stroke="#111" stroke-width="0.8"/>
<circle cx="480" cy="419" r="1.35" fill="#fff" stroke="#2a2a2a" stroke-width="0.65"/>
<circle cx="479.5" cy="424" r="1.35" fill="#fff" stroke="#2a2a2a" stroke-width="0.65"/>
<circle cx="481" cy="427" r="1.35" fill="#fff" stroke="#2a2a2a" stroke-width="0.65"/>
<circle cx="479" cy="429.5" r="1.35" fill="#fff" stroke="#2a2a2a" stroke-width="0.65"/>
<line x1="459.9" y1="406.9" x2="459.9" y2="448" stroke="#333" stroke-width="1.3" stroke-dasharray="2.4,3"/>
<path d="M440.3,424.0 L440.3,422.2 L452.1,422.2 L452.1,424.0" fill="none" stroke="#1a1a1a" stroke-width="1.1"/>
<circle cx="446.4" cy="418.5" r="0.8" fill="#1a1a1a"/>
<path d="M468.3,416.6 L468.3,414.8 L480,414.8 L480,416.6" fill="none" stroke="#1a1a1a" stroke-width="1.1"/>
<circle cx="474.2" cy="410.9" r="0.8" fill="#1a1a1a"/>
<text x="447.1" y="457" font-size="7.4" text-anchor="middle" fill="#1a1a1a" stroke="#1a1a1a" stroke-width="0.12" textLength="9.7" lengthAdjust="spacingAndGlyphs">WT</text>
<text x="466" y="457" font-size="7.2" text-anchor="start" fill="#1a1a1a" stroke="#1a1a1a" stroke-width="0.12" textLength="13.3" lengthAdjust="spacingAndGlyphs"><tspan font-style="italic">Stat1</tspan><tspan font-size="4.8" baseline-shift="2.8">-/-</tspan></text>
<text x="419.2" y="426" font-size="7.6" text-anchor="middle" fill="#1a1a1a" stroke="#1a1a1a" stroke-width="0.12" transform="rotate(-90 419.2 426)" textLength="62" lengthAdjust="spacingAndGlyphs">MEP (X10<tspan font-size="5" baseline-shift="2.8">5</tspan>/hind limb)</text>
</svg>
</body></html>
